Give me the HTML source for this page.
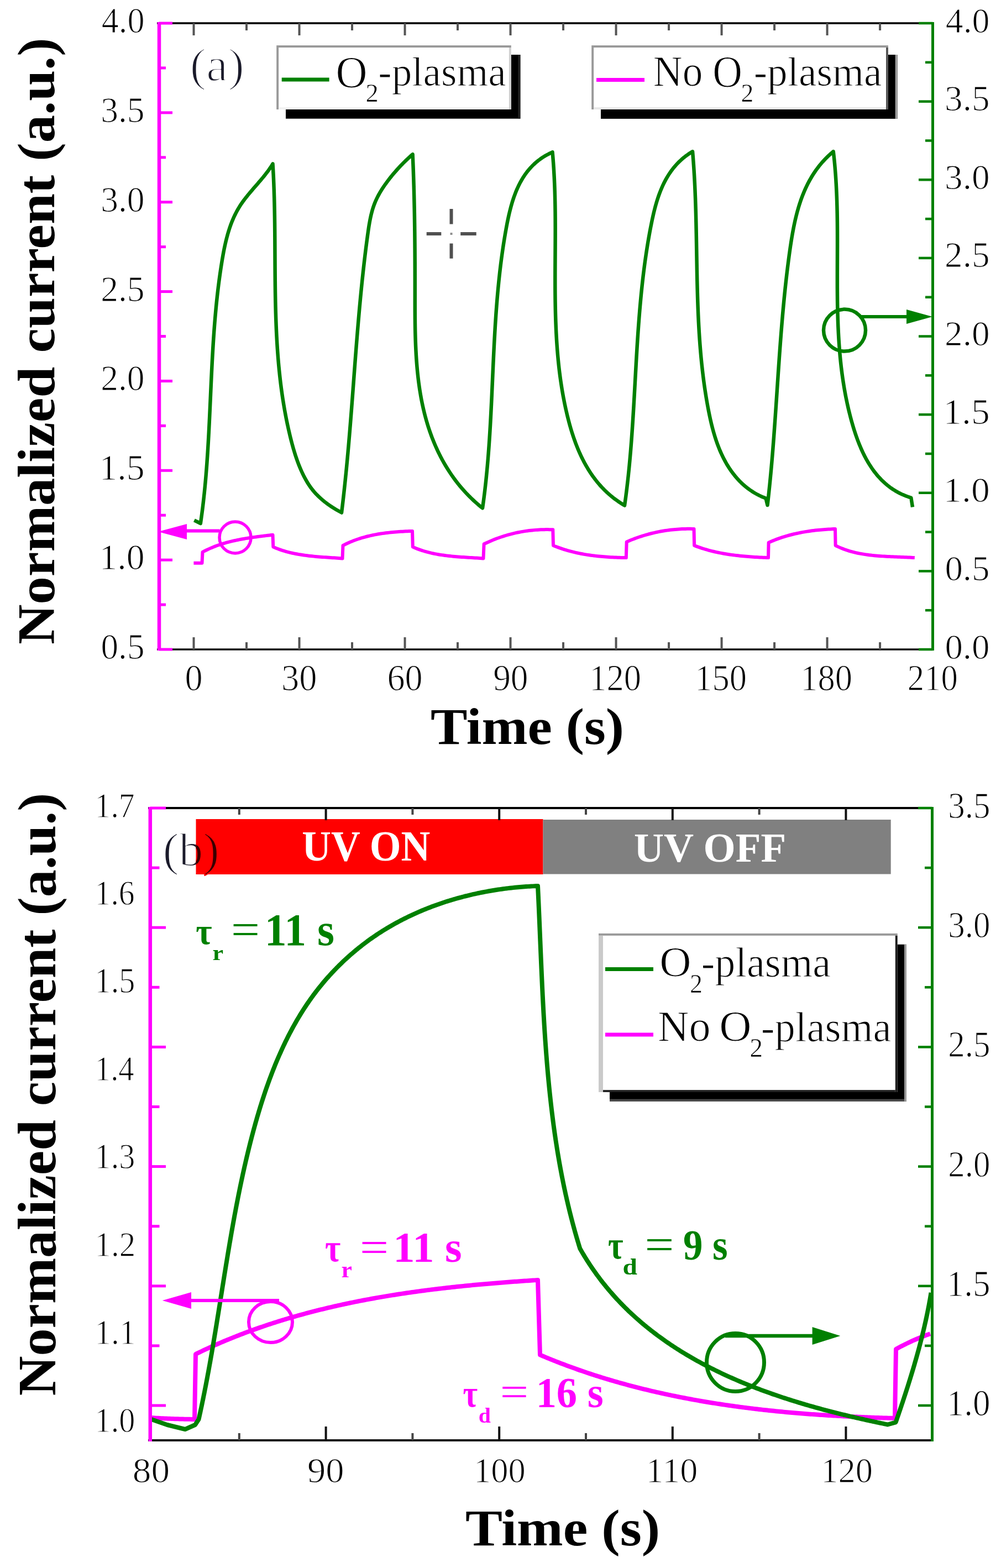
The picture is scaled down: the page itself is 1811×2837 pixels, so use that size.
<!DOCTYPE html>
<html><head><meta charset="utf-8"><title>Normalized current vs time</title>
<style>html,body{margin:0;padding:0;background:#fff}svg{display:block}</style></head>
<body><svg xmlns="http://www.w3.org/2000/svg" width="1811" height="2837" viewBox="0 0 1811 2837">
<rect width="1811" height="2837" fill="#fff"/>
<rect x="517" y="99" width="424.4" height="115.7" fill="#000"/>
<rect x="937.4" y="99" width="4" height="115.7" fill="#222"/>
<rect x="500.2" y="82.1" width="424.6" height="115.9" fill="#fff"/>
<rect x="500.2" y="82.1" width="424.6" height="3.9" fill="#999"/>
<rect x="500.2" y="86" width="3.9" height="112" fill="#999"/>
<rect x="920.9" y="86" width="3.9" height="112" fill="#d0d0d0"/>
<rect x="504.1" y="194.1" width="416.8" height="3.9" fill="#f2f2f2"/>
<rect x="1087" y="99" width="536.7" height="115.9" fill="#000"/>
<rect x="1619.7" y="99" width="4" height="115.9" fill="#a0a0a0"/>
<rect x="1070.2" y="82.1" width="536.7" height="115.9" fill="#fff"/>
<rect x="1070.2" y="82.1" width="536.7" height="3.9" fill="#999"/>
<rect x="1070.2" y="86" width="3.9" height="112" fill="#999"/>
<rect x="1603" y="86" width="3.9" height="112" fill="#555"/>
<rect x="1074.1" y="194.1" width="528.9" height="3.9" fill="#e8e8e8"/>
<line x1="509.7" y1="144" x2="595.6" y2="144" stroke="#008000" stroke-width="7"/>
<line x1="1079" y1="144.5" x2="1166" y2="144.5" stroke="#ff00ff" stroke-width="7"/>
<text transform="translate(607.54 157.59) scale(0.7906 0.8090)" font-size="100" font-family="'Liberation Serif',serif" font-weight="normal" fill="#000" stroke="#fff" stroke-width="1.50" stroke-linejoin="round">O</text>
<text transform="translate(661.61 184.2) scale(0.4650 0.4576)" font-size="100" font-family="'Liberation Serif',serif" font-weight="normal" fill="#000" stroke="#fff" stroke-width="1.52" stroke-linejoin="round">2</text>
<text transform="translate(684.34 155.45) scale(0.7310 0.7374)" font-size="100" font-family="'Liberation Serif',serif" font-weight="normal" fill="#000" stroke="#fff" stroke-width="1.63" stroke-linejoin="round">-plasma</text>
<text transform="translate(1181.8 155.02) scale(0.7322 0.7774)" font-size="100" font-family="'Liberation Serif',serif" font-weight="normal" fill="#000" stroke="#fff" stroke-width="1.59" stroke-linejoin="round">No</text>
<text transform="translate(1289.23 156.6) scale(0.7437 0.7955)" font-size="100" font-family="'Liberation Serif',serif" font-weight="normal" fill="#000" stroke="#fff" stroke-width="1.56" stroke-linejoin="round">O</text>
<text transform="translate(1340.54 184.3) scale(0.4575 0.4636)" font-size="100" font-family="'Liberation Serif',serif" font-weight="normal" fill="#000" stroke="#fff" stroke-width="1.52" stroke-linejoin="round">2</text>
<text transform="translate(1363.64 155.45) scale(0.7323 0.7374)" font-size="100" font-family="'Liberation Serif',serif" font-weight="normal" fill="#000" stroke="#fff" stroke-width="1.63" stroke-linejoin="round">-plasma</text>
<polyline points="350.4,1018.7 365.5,1018.7 366.5,998.9 369.22,997.44 371.96,996.04 374.72,994.69 377.5,993.38 380.29,992.13 383.1,990.92 385.93,989.76 388.77,988.64 391.62,987.56 394.5,986.53 397.38,985.54 400.28,984.58 403.19,983.67 406.11,982.79 409.05,981.95 411.99,981.14 414.95,980.37 417.91,979.62 420.88,978.91 423.87,978.23 426.86,977.57 429.86,976.95 432.86,976.34 435.87,975.77 438.89,975.21 441.91,974.68 444.94,974.16 447.97,973.67 451,973.19 454.04,972.73 457.08,972.29 460.12,971.86 463.16,971.44 466.2,971.04 469.24,970.64 472.28,970.26 475.32,969.88 478.36,969.51 481.4,969.14 484.43,968.78 487.46,968.42 490.48,968.06 493.5,967.7 494.3,989.6 497.1,990.81 499.91,991.96 502.74,993.06 505.59,994.11 508.45,995.1 511.33,996.04 514.22,996.94 517.13,997.79 520.05,998.59 522.98,999.35 525.92,1000.06 528.87,1000.74 531.83,1001.38 534.81,1001.98 537.79,1002.55 540.78,1003.08 543.78,1003.58 546.78,1004.05 549.8,1004.49 552.82,1004.9 555.84,1005.29 558.87,1005.65 561.9,1006 564.94,1006.32 567.98,1006.62 571.02,1006.9 574.06,1007.17 577.11,1007.42 580.15,1007.67 583.2,1007.9 586.24,1008.12 589.28,1008.33 592.32,1008.54 595.36,1008.74 598.4,1008.94 601.43,1009.14 604.46,1009.34 607.48,1009.54 610.49,1009.75 613.5,1009.96 616.51,1010.17 619.5,1010.4 620.5,987 623.17,985.61 625.86,984.27 628.58,982.99 631.31,981.74 634.06,980.55 636.83,979.4 639.62,978.3 642.42,977.24 645.24,976.23 648.08,975.26 650.93,974.32 653.8,973.43 656.68,972.58 659.57,971.77 662.47,971 665.39,970.26 668.32,969.56 671.26,968.89 674.2,968.26 677.16,967.66 680.12,967.1 683.09,966.56 686.07,966.06 689.06,965.58 692.05,965.13 695.04,964.71 698.04,964.32 701.04,963.95 704.04,963.61 707.05,963.29 710.06,963 713.07,962.72 716.07,962.47 719.08,962.24 722.09,962.03 725.09,961.83 728.09,961.65 731.09,961.49 734.08,961.35 737.07,961.22 740.05,961.1 743.03,960.99 746,960.9 746.8,989.6 749.58,990.82 752.38,991.99 755.2,993.1 758.03,994.16 760.88,995.16 763.74,996.11 766.62,997.01 769.51,997.87 772.41,998.68 775.33,999.44 778.26,1000.16 781.2,1000.84 784.15,1001.48 787.11,1002.09 790.07,1002.65 793.05,1003.19 796.04,1003.68 799.03,1004.15 802.03,1004.59 805.03,1005 808.05,1005.38 811.06,1005.74 814.08,1006.07 817.11,1006.39 820.14,1006.68 823.17,1006.96 826.2,1007.21 829.23,1007.46 832.27,1007.69 835.3,1007.9 838.34,1008.11 841.37,1008.31 844.4,1008.5 847.43,1008.69 850.46,1008.87 853.48,1009.05 856.5,1009.23 859.52,1009.42 862.53,1009.6 865.53,1009.79 868.53,1009.98 871.52,1010.19 874.5,1010.4 875.6,984.3 878.4,982.96 881.21,981.66 884.03,980.39 886.86,979.15 889.69,977.95 892.54,976.79 895.39,975.66 898.25,974.57 901.12,973.51 903.99,972.49 906.87,971.5 909.77,970.55 912.67,969.63 915.58,968.75 918.49,967.9 921.42,967.09 924.35,966.31 927.29,965.57 930.24,964.86 933.19,964.19 936.16,963.55 939.13,962.95 942.11,962.38 945.1,961.85 948.1,961.36 951.11,960.9 954.12,960.47 957.14,960.08 960.17,959.72 963.21,959.4 966.26,959.12 969.31,958.87 972.37,958.65 975.44,958.47 978.52,958.33 981.61,958.22 984.7,958.15 987.81,958.11 990.92,958.1 994.04,958.13 997.16,958.2 1000.3,958.3 1001,987 1003.84,988.17 1006.7,989.29 1009.57,990.37 1012.45,991.42 1015.33,992.43 1018.23,993.39 1021.14,994.32 1024.06,995.22 1026.99,996.08 1029.93,996.9 1032.88,997.69 1035.83,998.44 1038.8,999.16 1041.77,999.85 1044.75,1000.51 1047.73,1001.14 1050.72,1001.74 1053.72,1002.3 1056.73,1002.84 1059.74,1003.35 1062.75,1003.84 1065.77,1004.29 1068.8,1004.72 1071.83,1005.13 1074.86,1005.51 1077.9,1005.87 1080.94,1006.21 1083.98,1006.52 1087.03,1006.81 1090.08,1007.08 1093.13,1007.33 1096.18,1007.56 1099.23,1007.78 1102.29,1007.97 1105.34,1008.15 1108.39,1008.31 1111.45,1008.46 1114.5,1008.59 1117.56,1008.71 1120.61,1008.81 1123.66,1008.9 1126.71,1008.98 1129.76,1009.04 1132.8,1009.1 1133.7,980.4 1136.54,979.18 1139.39,977.99 1142.25,976.83 1145.11,975.71 1147.98,974.61 1150.86,973.55 1153.74,972.53 1156.63,971.53 1159.52,970.57 1162.43,969.64 1165.33,968.75 1168.25,967.88 1171.17,967.05 1174.09,966.25 1177.03,965.48 1179.96,964.75 1182.91,964.05 1185.86,963.38 1188.82,962.75 1191.78,962.14 1194.76,961.57 1197.73,961.03 1200.72,960.53 1203.71,960.06 1206.7,959.61 1209.7,959.21 1212.71,958.83 1215.73,958.49 1218.75,958.18 1221.78,957.9 1224.81,957.66 1227.85,957.44 1230.9,957.26 1233.95,957.12 1237.01,957 1240.08,956.92 1243.15,956.87 1246.23,956.85 1249.31,956.87 1252.4,956.92 1255.5,957 1256.1,987 1258.93,988.09 1261.76,989.15 1264.62,990.17 1267.48,991.15 1270.35,992.09 1273.23,993 1276.13,993.88 1279.03,994.72 1281.95,995.53 1284.87,996.31 1287.8,997.06 1290.74,997.78 1293.69,998.46 1296.64,999.12 1299.61,999.75 1302.58,1000.35 1305.55,1000.92 1308.54,1001.47 1311.52,1002 1314.52,1002.49 1317.52,1002.97 1320.52,1003.42 1323.53,1003.85 1326.54,1004.26 1329.55,1004.64 1332.57,1005.01 1335.59,1005.35 1338.62,1005.68 1341.64,1005.99 1344.67,1006.28 1347.7,1006.56 1350.72,1006.82 1353.75,1007.07 1356.78,1007.3 1359.81,1007.51 1362.84,1007.72 1365.87,1007.91 1368.89,1008.09 1371.92,1008.26 1374.94,1008.42 1377.96,1008.57 1380.97,1008.72 1383.99,1008.85 1387,1008.98 1390,1009.1 1390.6,981.7 1393.36,980.47 1396.14,979.27 1398.93,978.12 1401.74,977 1404.55,975.91 1407.38,974.87 1410.22,973.86 1413.07,972.88 1415.94,971.94 1418.81,971.03 1421.7,970.16 1424.59,969.32 1427.49,968.51 1430.41,967.74 1433.33,966.99 1436.26,966.28 1439.19,965.6 1442.14,964.95 1445.09,964.32 1448.05,963.73 1451.02,963.16 1453.99,962.63 1456.96,962.12 1459.94,961.63 1462.93,961.17 1465.92,960.74 1468.91,960.34 1471.91,959.95 1474.91,959.6 1477.91,959.26 1480.92,958.95 1483.92,958.66 1486.93,958.4 1489.94,958.15 1492.95,957.93 1495.96,957.73 1498.97,957.54 1501.98,957.38 1504.99,957.24 1508,957.11 1511,957 1511.6,987 1514.34,988.35 1517.1,989.64 1519.88,990.87 1522.68,992.04 1525.49,993.14 1528.33,994.19 1531.18,995.19 1534.05,996.12 1536.94,997.01 1539.84,997.84 1542.75,998.63 1545.68,999.37 1548.63,1000.06 1551.58,1000.71 1554.55,1001.32 1557.53,1001.89 1560.52,1002.42 1563.52,1002.91 1566.53,1003.36 1569.55,1003.79 1572.57,1004.18 1575.61,1004.54 1578.65,1004.87 1581.69,1005.18 1584.74,1005.46 1587.8,1005.72 1590.86,1005.96 1593.92,1006.17 1596.99,1006.37 1600.05,1006.56 1603.12,1006.73 1606.19,1006.88 1609.26,1007.03 1612.32,1007.17 1615.39,1007.3 1618.45,1007.42 1621.52,1007.54 1624.57,1007.66 1627.63,1007.78 1630.67,1007.9 1633.72,1008.02 1636.75,1008.14 1639.78,1008.28 1642.8,1008.42 1645.82,1008.57 1648.82,1008.73 1651.82,1008.91 1654.8,1009.1" fill="none" stroke="#ff00ff" stroke-width="6" stroke-linejoin="round" stroke-linecap="butt"/>
<polyline points="351.4,941.4 362.8,947 363.24,944.03 363.66,941.07 364.08,938.1 364.49,935.13 364.9,932.16 365.29,929.19 365.68,926.22 366.07,923.25 366.44,920.28 366.81,917.31 367.17,914.33 367.52,911.36 367.87,908.38 368.21,905.41 368.54,902.43 368.87,899.45 369.19,896.47 369.51,893.5 369.82,890.52 370.12,887.54 370.42,884.56 370.71,881.58 370.99,878.59 371.27,875.61 371.55,872.63 371.82,869.65 372.08,866.66 372.34,863.68 372.59,860.69 372.84,857.71 373.08,854.72 373.32,851.73 373.56,848.75 373.79,845.76 374.01,842.77 374.23,839.78 374.45,836.79 374.66,833.8 374.87,830.81 375.08,827.82 375.28,824.83 375.48,821.83 375.67,818.84 375.86,815.85 376.05,812.86 376.23,809.86 376.41,806.87 376.59,803.87 376.77,800.88 376.94,797.88 377.11,794.89 377.27,791.89 377.44,788.89 377.6,785.9 377.76,782.9 377.91,779.9 378.07,776.9 378.22,773.91 378.37,770.91 378.52,767.91 378.67,764.91 378.81,761.91 378.96,758.91 379.1,755.91 379.24,752.91 379.38,749.91 379.52,746.91 379.66,743.91 379.8,740.9 379.94,737.9 380.07,734.9 380.21,731.9 380.34,728.9 380.48,725.89 380.61,722.89 380.75,719.89 380.88,716.88 381.02,713.88 381.15,710.88 381.29,707.87 381.42,704.87 381.56,701.87 381.7,698.86 381.83,695.86 381.97,692.85 382.11,689.85 382.25,686.84 382.39,683.84 382.53,680.83 382.68,677.83 382.82,674.83 382.97,671.82 383.12,668.82 383.27,665.81 383.42,662.81 383.58,659.8 383.73,656.8 383.89,653.79 384.05,650.79 384.22,647.78 384.38,644.78 384.55,641.77 384.72,638.77 384.9,635.76 385.07,632.76 385.25,629.75 385.44,626.75 385.62,623.74 385.81,620.74 386,617.73 386.2,614.73 386.4,611.72 386.61,608.72 386.81,605.72 387.03,602.71 387.24,599.71 387.46,596.7 387.69,593.7 387.92,590.7 388.15,587.69 388.39,584.69 388.63,581.69 388.88,578.69 389.13,575.68 389.39,572.68 389.65,569.68 389.92,566.68 390.19,563.68 390.47,560.68 390.75,557.67 391.04,554.67 391.34,551.67 391.64,548.67 391.95,545.67 392.26,542.67 392.58,539.67 392.91,536.68 393.24,533.68 393.58,530.68 393.93,527.68 394.28,524.68 394.64,521.69 395,518.69 395.38,515.69 395.76,512.7 396.15,509.7 396.54,506.71 396.94,503.71 397.35,500.72 397.77,497.72 398.19,494.73 398.63,491.74 399.07,488.74 399.52,485.75 399.98,482.76 400.44,479.77 400.92,476.78 401.4,473.79 401.89,470.8 402.39,467.81 402.91,464.82 403.43,461.84 403.97,458.86 404.53,455.89 405.1,452.92 405.7,449.96 406.31,447 406.94,444.05 407.59,441.11 408.26,438.18 408.96,435.26 409.68,432.35 410.43,429.45 411.21,426.56 412.01,423.68 412.84,420.82 413.71,417.97 414.61,415.13 415.54,412.31 416.5,409.51 417.5,406.72 418.54,403.95 419.62,401.19 420.73,398.46 421.89,395.75 423.08,393.05 424.32,390.38 425.61,387.73 426.94,385.1 428.31,382.49 429.74,379.91 431.21,377.35 432.73,374.81 434.3,372.31 435.93,369.82 437.6,367.37 439.32,364.93 441.08,362.52 442.88,360.13 444.72,357.75 446.58,355.39 448.48,353.05 450.4,350.71 452.34,348.39 454.3,346.07 456.27,343.77 458.25,341.47 460.25,339.17 462.24,336.87 464.24,334.57 466.23,332.28 468.22,329.97 470.2,327.67 472.16,325.35 474.11,323.03 476.04,320.7 477.95,318.35 479.83,315.99 481.68,313.62 483.5,311.22 485.28,308.81 487.02,306.38 488.71,303.92 490.36,301.44 491.96,298.94 493.5,296.4 493.69,299.41 493.86,302.41 494.04,305.42 494.2,308.43 494.36,311.44 494.52,314.45 494.67,317.46 494.81,320.46 494.95,323.47 495.08,326.48 495.21,329.49 495.34,332.5 495.45,335.51 495.57,338.53 495.67,341.54 495.78,344.55 495.88,347.56 495.97,350.57 496.06,353.58 496.15,356.59 496.23,359.61 496.31,362.62 496.39,365.63 496.46,368.64 496.52,371.66 496.59,374.67 496.65,377.68 496.71,380.7 496.76,383.71 496.81,386.72 496.86,389.74 496.91,392.75 496.95,395.76 496.99,398.78 497.03,401.79 497.07,404.8 497.1,407.82 497.13,410.83 497.16,413.85 497.19,416.86 497.22,419.87 497.24,422.89 497.26,425.9 497.29,428.92 497.31,431.93 497.33,434.95 497.35,437.96 497.36,440.97 497.38,443.99 497.4,447 497.41,450.02 497.43,453.03 497.44,456.04 497.46,459.06 497.48,462.07 497.49,465.09 497.51,468.1 497.52,471.11 497.54,474.13 497.55,477.14 497.57,480.15 497.59,483.17 497.61,486.18 497.63,489.19 497.65,492.2 497.67,495.22 497.7,498.23 497.72,501.24 497.75,504.25 497.78,507.26 497.81,510.28 497.84,513.29 497.87,516.3 497.91,519.31 497.95,522.32 497.99,525.33 498.03,528.34 498.08,531.35 498.13,534.36 498.18,537.37 498.23,540.38 498.29,543.39 498.35,546.4 498.42,549.41 498.48,552.41 498.55,555.42 498.63,558.43 498.71,561.44 498.79,564.44 498.88,567.45 498.97,570.46 499.06,573.46 499.16,576.47 499.27,579.47 499.38,582.48 499.49,585.48 499.61,588.48 499.73,591.49 499.86,594.49 499.99,597.49 500.13,600.5 500.28,603.5 500.43,606.5 500.58,609.5 500.74,612.5 500.91,615.5 501.08,618.5 501.26,621.5 501.45,624.5 501.64,627.5 501.84,630.49 502.05,633.49 502.26,636.49 502.48,639.48 502.7,642.48 502.93,645.47 503.17,648.47 503.42,651.46 503.68,654.45 503.94,657.45 504.21,660.44 504.49,663.43 504.77,666.42 505.06,669.41 505.37,672.4 505.68,675.39 505.99,678.38 506.32,681.37 506.66,684.36 507,687.34 507.35,690.33 507.71,693.31 508.08,696.3 508.46,699.28 508.85,702.27 509.25,705.25 509.66,708.23 510.08,711.21 510.51,714.19 510.94,717.17 511.39,720.15 511.85,723.13 512.32,726.11 512.79,729.08 513.28,732.06 513.78,735.04 514.29,738.01 514.81,740.98 515.34,743.96 515.89,746.93 516.44,749.9 517,752.87 517.58,755.84 518.17,758.81 518.77,761.78 519.38,764.75 520,767.71 520.64,770.68 521.28,773.64 521.94,776.61 522.61,779.57 523.3,782.53 524,785.49 524.7,788.45 525.43,791.41 526.16,794.37 526.91,797.33 527.68,800.28 528.46,803.23 529.26,806.17 530.07,809.11 530.91,812.04 531.76,814.96 532.64,817.87 533.54,820.77 534.46,823.66 535.4,826.54 536.37,829.41 537.37,832.27 538.39,835.1 539.44,837.93 540.51,840.73 541.62,843.52 542.76,846.29 543.92,849.04 545.12,851.78 546.36,854.49 547.62,857.17 548.93,859.84 550.27,862.48 551.64,865.09 553.06,867.68 554.52,870.23 556.02,872.75 557.57,875.24 559.17,877.7 560.82,880.11 562.52,882.49 564.28,884.82 566.1,887.11 567.97,889.36 569.9,891.56 571.88,893.72 573.92,895.84 576,897.92 578.14,899.95 580.33,901.95 582.56,903.9 584.84,905.82 587.17,907.69 589.54,909.54 591.95,911.34 594.4,913.11 596.88,914.84 599.41,916.54 601.97,918.2 604.56,919.83 607.19,921.43 609.85,922.99 612.54,924.52 615.26,926.03 618,927.5 618.37,924.51 618.74,921.52 619.1,918.54 619.46,915.55 619.82,912.56 620.18,909.57 620.53,906.58 620.87,903.59 621.22,900.6 621.56,897.61 621.89,894.61 622.23,891.62 622.56,888.63 622.88,885.64 623.21,882.64 623.53,879.65 623.85,876.66 624.16,873.66 624.48,870.67 624.79,867.68 625.09,864.68 625.4,861.69 625.7,858.69 626,855.7 626.29,852.7 626.59,849.7 626.88,846.71 627.17,843.71 627.45,840.71 627.74,837.72 628.02,834.72 628.3,831.72 628.58,828.72 628.85,825.72 629.12,822.73 629.4,819.73 629.66,816.73 629.93,813.73 630.2,810.73 630.46,807.73 630.72,804.73 630.98,801.73 631.24,798.73 631.49,795.73 631.75,792.73 632,789.73 632.25,786.73 632.5,783.73 632.75,780.73 632.99,777.72 633.24,774.72 633.48,771.72 633.73,768.72 633.97,765.72 634.21,762.71 634.45,759.71 634.68,756.71 634.92,753.71 635.16,750.7 635.39,747.7 635.63,744.7 635.86,741.7 636.09,738.69 636.32,735.69 636.55,732.69 636.78,729.68 637.01,726.68 637.24,723.68 637.47,720.67 637.7,717.67 637.93,714.66 638.15,711.66 638.38,708.66 638.61,705.65 638.83,702.65 639.06,699.64 639.29,696.64 639.51,693.64 639.74,690.63 639.96,687.63 640.19,684.62 640.42,681.62 640.64,678.62 640.87,675.61 641.1,672.61 641.32,669.6 641.55,666.6 641.78,663.6 642,660.59 642.23,657.59 642.46,654.58 642.69,651.58 642.92,648.58 643.15,645.57 643.38,642.57 643.62,639.56 643.85,636.56 644.08,633.56 644.32,630.55 644.55,627.55 644.79,624.55 645.03,621.54 645.27,618.54 645.51,615.54 645.75,612.53 645.99,609.53 646.23,606.53 646.48,603.53 646.72,600.52 646.97,597.52 647.22,594.52 647.47,591.52 647.72,588.51 647.98,585.51 648.23,582.51 648.49,579.51 648.75,576.51 649.01,573.51 649.27,570.51 649.53,567.5 649.8,564.5 650.07,561.5 650.34,558.5 650.61,555.5 650.88,552.5 651.16,549.5 651.44,546.5 651.72,543.5 652,540.51 652.29,537.51 652.58,534.51 652.87,531.51 653.16,528.51 653.46,525.51 653.75,522.52 654.05,519.52 654.36,516.52 654.66,513.52 654.97,510.53 655.28,507.53 655.6,504.53 655.91,501.54 656.24,498.54 656.56,495.55 656.88,492.55 657.21,489.56 657.55,486.56 657.88,483.57 658.22,480.58 658.56,477.58 658.91,474.59 659.26,471.6 659.61,468.61 659.97,465.61 660.33,462.62 660.69,459.63 661.06,456.64 661.43,453.65 661.8,450.66 662.18,447.67 662.56,444.68 662.95,441.69 663.34,438.7 663.73,435.71 664.13,432.72 664.53,429.74 664.93,426.75 665.34,423.76 665.76,420.78 666.18,417.79 666.61,414.81 667.06,411.83 667.52,408.86 668.01,405.9 668.51,402.94 669.05,399.99 669.61,397.05 670.21,394.12 670.85,391.21 671.52,388.31 672.24,385.42 673,382.55 673.81,379.7 674.67,376.87 675.59,374.05 676.57,371.26 677.61,368.49 678.71,365.74 679.88,363.02 681.11,360.32 682.41,357.64 683.76,354.99 685.16,352.36 686.62,349.75 688.13,347.16 689.69,344.58 691.29,342.03 692.94,339.5 694.62,336.99 696.35,334.49 698.11,332.02 699.9,329.56 701.73,327.12 703.58,324.69 705.46,322.28 707.37,319.89 709.3,317.52 711.25,315.17 713.23,312.84 715.23,310.53 717.24,308.24 719.27,305.98 721.32,303.74 723.38,301.53 725.46,299.34 727.54,297.18 729.64,295.05 731.74,292.95 733.85,290.87 735.97,288.83 738.09,286.81 740.22,284.83 742.34,282.89 744.47,280.98 746.6,279.1 746.73,282.12 746.86,285.14 746.99,288.15 747.12,291.17 747.24,294.18 747.36,297.19 747.48,300.2 747.59,303.21 747.7,306.22 747.81,309.22 747.92,312.23 748.02,315.23 748.12,318.23 748.22,321.23 748.32,324.23 748.42,327.22 748.51,330.22 748.6,333.22 748.69,336.21 748.77,339.2 748.86,342.2 748.94,345.19 749.02,348.18 749.09,351.17 749.17,354.15 749.24,357.14 749.31,360.13 749.38,363.12 749.44,366.1 749.51,369.09 749.57,372.07 749.63,375.06 749.69,378.04 749.75,381.02 749.8,384.01 749.86,386.99 749.91,389.97 749.96,392.96 750,395.94 750.05,398.92 750.09,401.9 750.14,404.88 750.18,407.87 750.22,410.85 750.25,413.83 750.29,416.81 750.33,419.79 750.36,422.78 750.39,425.76 750.42,428.74 750.45,431.73 750.48,434.71 750.5,437.69 750.53,440.68 750.55,443.66 750.57,446.65 750.6,449.64 750.62,452.62 750.63,455.61 750.65,458.6 750.67,461.59 750.68,464.58 750.7,467.57 750.71,470.56 750.72,473.56 750.73,476.55 750.74,479.54 750.75,482.54 750.76,485.54 750.77,488.54 750.77,491.54 750.78,494.54 750.78,497.54 750.79,500.54 750.79,503.55 750.79,506.55 750.8,509.56 750.8,512.57 750.8,515.58 750.8,518.6 750.8,521.61 750.8,524.63 750.79,527.64 750.79,530.66 750.79,533.68 750.79,536.71 750.79,539.73 750.78,542.76 750.78,545.78 750.78,548.81 750.79,551.84 750.79,554.87 750.8,557.9 750.8,560.93 750.81,563.97 750.83,567 750.84,570.03 750.86,573.07 750.89,576.1 750.92,579.14 750.95,582.17 750.98,585.21 751.03,588.24 751.07,591.28 751.12,594.31 751.18,597.34 751.25,600.38 751.32,603.41 751.39,606.44 751.47,609.47 751.57,612.5 751.66,615.53 751.77,618.56 751.88,621.58 752,624.61 752.13,627.63 752.27,630.65 752.42,633.68 752.58,636.69 752.74,639.71 752.92,642.73 753.11,645.74 753.3,648.75 753.51,651.76 753.73,654.76 753.96,657.77 754.2,660.77 754.46,663.77 754.72,666.76 755,669.76 755.29,672.75 755.59,675.73 755.91,678.72 756.24,681.7 756.59,684.68 756.95,687.65 757.32,690.62 757.71,693.59 758.11,696.55 758.53,699.51 758.96,702.46 759.41,705.42 759.88,708.36 760.36,711.3 760.86,714.24 761.37,717.18 761.9,720.11 762.45,723.03 763.02,725.95 763.61,728.87 764.21,731.77 764.83,734.68 765.48,737.58 766.14,740.47 766.82,743.36 767.52,746.25 768.24,749.12 768.98,752 769.74,754.86 770.52,757.72 771.32,760.58 772.15,763.43 772.99,766.27 773.86,769.11 774.75,771.93 775.66,774.76 776.6,777.57 777.55,780.38 778.53,783.18 779.53,785.97 780.56,788.75 781.6,791.53 782.67,794.29 783.77,797.05 784.88,799.79 786.02,802.53 787.18,805.26 788.37,807.97 789.58,810.68 790.81,813.38 792.07,816.06 793.35,818.73 794.66,821.4 795.99,824.05 797.34,826.68 798.72,829.31 800.12,831.92 801.55,834.52 803,837.11 804.48,839.68 805.98,842.24 807.51,844.79 809.07,847.32 810.65,849.84 812.25,852.34 813.88,854.83 815.54,857.3 817.23,859.76 818.93,862.2 820.67,864.63 822.43,867.04 824.22,869.43 826.04,871.81 827.88,874.17 829.75,876.51 831.65,878.83 833.57,881.14 835.52,883.43 837.5,885.7 839.51,887.95 841.54,890.18 843.6,892.39 845.69,894.59 847.81,896.76 849.96,898.91 852.13,901.05 854.33,903.16 856.57,905.25 858.83,907.33 861.12,909.38 863.43,911.41 865.78,913.41 868.16,915.4 870.56,917.36 873,919.3 873.43,916.3 873.85,913.3 874.26,910.3 874.67,907.3 875.06,904.3 875.46,901.3 875.84,898.3 876.22,895.3 876.59,892.3 876.95,889.3 877.31,886.3 877.66,883.3 878,880.3 878.34,877.3 878.67,874.3 878.99,871.3 879.31,868.3 879.62,865.3 879.93,862.3 880.23,859.3 880.52,856.3 880.81,853.3 881.1,850.3 881.37,847.3 881.65,844.3 881.92,841.3 882.18,838.3 882.44,835.3 882.69,832.3 882.94,829.3 883.18,826.3 883.42,823.3 883.65,820.3 883.88,817.3 884.11,814.3 884.33,811.3 884.55,808.3 884.76,805.3 884.97,802.3 885.17,799.29 885.38,796.29 885.57,793.29 885.77,790.29 885.96,787.29 886.15,784.29 886.33,781.29 886.51,778.29 886.69,775.29 886.87,772.29 887.04,769.29 887.21,766.28 887.38,763.28 887.54,760.28 887.7,757.28 887.86,754.28 888.02,751.28 888.18,748.28 888.33,745.28 888.48,742.27 888.63,739.27 888.78,736.27 888.93,733.27 889.07,730.27 889.22,727.27 889.36,724.27 889.5,721.26 889.64,718.26 889.78,715.26 889.92,712.26 890.05,709.26 890.19,706.25 890.32,703.25 890.46,700.25 890.59,697.25 890.73,694.25 890.86,691.24 891,688.24 891.13,685.24 891.26,682.24 891.4,679.23 891.53,676.23 891.67,673.23 891.8,670.23 891.94,667.22 892.08,664.22 892.21,661.22 892.35,658.22 892.49,655.21 892.63,652.21 892.77,649.21 892.91,646.2 893.06,643.2 893.2,640.2 893.35,637.19 893.5,634.19 893.65,631.19 893.8,628.18 893.95,625.18 894.11,622.18 894.27,619.17 894.43,616.17 894.59,613.17 894.76,610.16 894.93,607.16 895.1,604.15 895.27,601.15 895.45,598.15 895.62,595.14 895.81,592.14 895.99,589.13 896.18,586.13 896.37,583.13 896.57,580.12 896.77,577.12 896.97,574.11 897.17,571.11 897.38,568.1 897.6,565.1 897.82,562.09 898.04,559.09 898.27,556.08 898.5,553.08 898.73,550.07 898.97,547.07 899.22,544.06 899.46,541.06 899.72,538.05 899.98,535.04 900.24,532.04 900.51,529.03 900.78,526.03 901.06,523.02 901.35,520.02 901.64,517.01 901.94,514 902.24,511 902.54,507.99 902.86,504.98 903.18,501.98 903.5,498.97 903.84,495.96 904.17,492.96 904.52,489.95 904.87,486.94 905.23,483.94 905.59,480.93 905.96,477.92 906.34,474.91 906.73,471.91 907.12,468.9 907.52,465.89 907.93,462.88 908.34,459.88 908.76,456.87 909.19,453.86 909.63,450.85 910.08,447.84 910.53,444.84 910.99,441.83 911.46,438.82 911.94,435.81 912.42,432.8 912.92,429.79 913.42,426.78 913.93,423.78 914.45,420.77 914.98,417.76 915.52,414.75 916.06,411.74 916.62,408.73 917.2,405.73 917.78,402.73 918.38,399.74 919,396.75 919.63,393.76 920.28,390.79 920.95,387.82 921.64,384.87 922.36,381.92 923.1,378.99 923.86,376.07 924.64,373.16 925.46,370.27 926.3,367.39 927.17,364.53 928.07,361.69 929,358.87 929.97,356.06 930.97,353.28 932,350.52 933.07,347.78 934.18,345.06 935.32,342.37 936.51,339.71 937.74,337.07 939,334.46 940.32,331.88 941.67,329.32 943.08,326.8 944.53,324.31 946.02,321.85 947.57,319.43 949.17,317.04 950.82,314.68 952.52,312.37 954.28,310.08 956.09,307.84 957.96,305.64 959.88,303.48 961.87,301.36 963.91,299.28 966.02,297.24 968.18,295.25 970.42,293.31 972.71,291.41 975.07,289.56 977.5,287.76 980,286 982.57,284.3 985.21,282.65 987.92,281.05 990.7,279.51 993.56,278.01 996.49,276.58 999.5,275.2 999.77,278.18 1000.04,281.16 1000.29,284.14 1000.54,287.12 1000.77,290.11 1001,293.09 1001.22,296.08 1001.43,299.06 1001.63,302.05 1001.83,305.04 1002.01,308.03 1002.19,311.02 1002.36,314.02 1002.52,317.01 1002.68,320 1002.83,323 1002.97,326 1003.1,328.99 1003.23,331.99 1003.35,334.99 1003.46,337.99 1003.57,340.99 1003.67,343.99 1003.77,347 1003.86,350 1003.94,353 1004.02,356.01 1004.09,359.01 1004.16,362.02 1004.23,365.03 1004.28,368.04 1004.34,371.04 1004.39,374.05 1004.43,377.06 1004.47,380.07 1004.51,383.08 1004.54,386.1 1004.57,389.11 1004.59,392.12 1004.61,395.13 1004.63,398.15 1004.64,401.16 1004.65,404.18 1004.66,407.19 1004.67,410.21 1004.67,413.22 1004.67,416.24 1004.67,419.26 1004.66,422.27 1004.66,425.29 1004.65,428.31 1004.64,431.33 1004.63,434.34 1004.62,437.36 1004.6,440.38 1004.59,443.4 1004.57,446.42 1004.56,449.44 1004.54,452.46 1004.52,455.48 1004.5,458.5 1004.49,461.52 1004.47,464.54 1004.45,467.56 1004.43,470.58 1004.42,473.6 1004.4,476.62 1004.38,479.64 1004.37,482.66 1004.36,485.68 1004.34,488.7 1004.33,491.72 1004.32,494.74 1004.32,497.76 1004.31,500.78 1004.31,503.8 1004.31,506.81 1004.31,509.83 1004.31,512.85 1004.32,515.87 1004.33,518.89 1004.34,521.91 1004.35,524.92 1004.37,527.94 1004.39,530.96 1004.42,533.98 1004.45,536.99 1004.48,540.01 1004.52,543.02 1004.56,546.04 1004.61,549.05 1004.66,552.07 1004.71,555.08 1004.77,558.09 1004.84,561.11 1004.91,564.12 1004.98,567.13 1005.06,570.14 1005.15,573.15 1005.24,576.16 1005.34,579.17 1005.44,582.18 1005.55,585.19 1005.67,588.19 1005.79,591.2 1005.92,594.2 1006.05,597.21 1006.2,600.21 1006.35,603.22 1006.51,606.22 1006.67,609.22 1006.84,612.22 1007.02,615.22 1007.21,618.22 1007.41,621.22 1007.61,624.22 1007.83,627.21 1008.05,630.21 1008.28,633.2 1008.52,636.2 1008.77,639.19 1009.02,642.18 1009.29,645.17 1009.57,648.16 1009.85,651.15 1010.15,654.13 1010.45,657.12 1010.77,660.1 1011.09,663.09 1011.43,666.07 1011.78,669.05 1012.13,672.03 1012.5,675.01 1012.88,677.99 1013.27,680.96 1013.67,683.94 1014.09,686.91 1014.51,689.88 1014.95,692.85 1015.4,695.82 1015.86,698.79 1016.33,701.76 1016.81,704.72 1017.31,707.69 1017.82,710.65 1018.34,713.61 1018.88,716.57 1019.43,719.53 1019.99,722.48 1020.57,725.44 1021.16,728.39 1021.76,731.34 1022.38,734.29 1023.01,737.24 1023.66,740.19 1024.32,743.13 1024.99,746.08 1025.68,749.02 1026.39,751.96 1027.11,754.89 1027.85,757.82 1028.6,760.75 1029.37,763.67 1030.16,766.59 1030.97,769.51 1031.79,772.41 1032.63,775.31 1033.5,778.21 1034.38,781.09 1035.29,783.97 1036.21,786.84 1037.16,789.7 1038.13,792.55 1039.12,795.39 1040.13,798.21 1041.17,801.03 1042.23,803.84 1043.31,806.63 1044.42,809.41 1045.55,812.18 1046.71,814.93 1047.9,817.67 1049.11,820.39 1050.35,823.1 1051.61,825.8 1052.91,828.47 1054.23,831.13 1055.58,833.77 1056.96,836.4 1058.37,839 1059.81,841.59 1061.28,844.16 1062.78,846.7 1064.31,849.23 1065.88,851.73 1067.48,854.22 1069.11,856.68 1070.77,859.12 1072.47,861.53 1074.2,863.92 1075.97,866.29 1077.77,868.63 1079.61,870.95 1081.48,873.24 1083.39,875.51 1085.34,877.75 1087.32,879.96 1089.35,882.14 1091.41,884.3 1093.51,886.42 1095.65,888.52 1097.83,890.59 1100.05,892.62 1102.31,894.63 1104.61,896.6 1106.95,898.54 1109.34,900.45 1111.77,902.33 1114.24,904.17 1116.76,905.98 1119.31,907.76 1121.92,909.5 1124.57,911.2 1127.26,912.87 1130,914.5 1130.43,911.52 1130.85,908.54 1131.26,905.56 1131.67,902.58 1132.07,899.6 1132.46,896.62 1132.85,893.63 1133.23,890.65 1133.61,887.66 1133.97,884.68 1134.34,881.69 1134.69,878.7 1135.04,875.72 1135.39,872.73 1135.72,869.74 1136.06,866.75 1136.38,863.76 1136.71,860.77 1137.02,857.78 1137.33,854.78 1137.64,851.79 1137.94,848.8 1138.24,845.8 1138.53,842.81 1138.81,839.81 1139.09,836.82 1139.37,833.82 1139.64,830.83 1139.91,827.83 1140.17,824.83 1140.43,821.83 1140.69,818.83 1140.94,815.83 1141.19,812.83 1141.43,809.83 1141.67,806.83 1141.91,803.83 1142.14,800.83 1142.37,797.83 1142.59,794.83 1142.81,791.82 1143.03,788.82 1143.25,785.82 1143.46,782.81 1143.67,779.81 1143.88,776.8 1144.08,773.8 1144.28,770.79 1144.48,767.79 1144.68,764.78 1144.87,761.77 1145.06,758.77 1145.25,755.76 1145.44,752.75 1145.63,749.74 1145.81,746.74 1145.99,743.73 1146.17,740.72 1146.35,737.71 1146.53,734.7 1146.7,731.69 1146.88,728.68 1147.05,725.67 1147.22,722.66 1147.4,719.65 1147.57,716.64 1147.74,713.63 1147.9,710.62 1148.07,707.61 1148.24,704.6 1148.41,701.59 1148.57,698.58 1148.74,695.57 1148.91,692.56 1149.07,689.55 1149.24,686.54 1149.41,683.53 1149.57,680.51 1149.74,677.5 1149.91,674.49 1150.07,671.48 1150.24,668.47 1150.41,665.46 1150.58,662.45 1150.75,659.43 1150.92,656.42 1151.1,653.41 1151.27,650.4 1151.44,647.39 1151.62,644.38 1151.8,641.37 1151.98,638.35 1152.16,635.34 1152.34,632.33 1152.53,629.32 1152.71,626.31 1152.9,623.3 1153.09,620.29 1153.29,617.28 1153.48,614.27 1153.68,611.26 1153.88,608.25 1154.08,605.24 1154.29,602.23 1154.49,599.22 1154.7,596.21 1154.92,593.2 1155.14,590.2 1155.36,587.19 1155.58,584.18 1155.81,581.17 1156.04,578.16 1156.27,575.16 1156.51,572.15 1156.75,569.14 1156.99,566.14 1157.24,563.13 1157.49,560.13 1157.75,557.12 1158.01,554.12 1158.28,551.11 1158.55,548.11 1158.82,545.1 1159.1,542.1 1159.38,539.1 1159.67,536.1 1159.96,533.09 1160.26,530.09 1160.56,527.09 1160.87,524.09 1161.18,521.09 1161.5,518.09 1161.83,515.09 1162.16,512.09 1162.49,509.09 1162.83,506.09 1163.18,503.1 1163.53,500.1 1163.89,497.1 1164.25,494.11 1164.63,491.11 1165,488.12 1165.39,485.12 1165.78,482.13 1166.17,479.14 1166.58,476.14 1166.98,473.15 1167.4,470.16 1167.83,467.17 1168.26,464.18 1168.69,461.19 1169.14,458.2 1169.59,455.22 1170.05,452.23 1170.52,449.24 1170.99,446.26 1171.48,443.27 1171.97,440.29 1172.46,437.3 1172.97,434.32 1173.48,431.34 1174.01,428.36 1174.54,425.38 1175.08,422.4 1175.62,419.42 1176.18,416.44 1176.75,413.46 1177.32,410.49 1177.9,407.51 1178.5,404.54 1179.1,401.57 1179.72,398.6 1180.35,395.64 1181,392.68 1181.66,389.73 1182.34,386.79 1183.04,383.85 1183.76,380.93 1184.5,378.01 1185.26,375.11 1186.05,372.21 1186.86,369.33 1187.7,366.46 1188.56,363.61 1189.45,360.77 1190.37,357.95 1191.33,355.14 1192.31,352.35 1193.32,349.58 1194.38,346.83 1195.46,344.1 1196.58,341.39 1197.74,338.7 1198.94,336.03 1200.18,333.39 1201.46,330.77 1202.78,328.18 1204.14,325.61 1205.55,323.07 1207.01,320.56 1208.51,318.08 1210.06,315.62 1211.66,313.2 1213.31,310.81 1215.01,308.45 1216.77,306.12 1218.58,303.83 1220.44,301.57 1222.36,299.35 1224.34,297.17 1226.38,295.02 1228.47,292.91 1230.63,290.84 1232.85,288.81 1235.14,286.82 1237.48,284.87 1239.9,282.96 1242.38,281.1 1244.93,279.28 1247.55,277.51 1250.24,275.78 1253,274.1 1253.26,277.11 1253.51,280.11 1253.76,283.12 1254,286.12 1254.23,289.13 1254.45,292.13 1254.67,295.14 1254.89,298.14 1255.09,301.15 1255.29,304.15 1255.49,307.15 1255.68,310.16 1255.86,313.16 1256.04,316.16 1256.21,319.16 1256.38,322.16 1256.54,325.17 1256.7,328.17 1256.85,331.17 1257,334.17 1257.15,337.17 1257.28,340.17 1257.42,343.17 1257.55,346.17 1257.67,349.17 1257.79,352.17 1257.91,355.16 1258.03,358.16 1258.14,361.16 1258.24,364.16 1258.34,367.16 1258.44,370.15 1258.54,373.15 1258.63,376.15 1258.72,379.14 1258.81,382.14 1258.89,385.14 1258.97,388.13 1259.05,391.13 1259.12,394.12 1259.2,397.12 1259.27,400.11 1259.34,403.11 1259.4,406.1 1259.47,409.1 1259.53,412.09 1259.59,415.09 1259.65,418.08 1259.71,421.07 1259.77,424.07 1259.82,427.06 1259.88,430.05 1259.93,433.05 1259.98,436.04 1260.04,439.03 1260.09,442.02 1260.14,445.02 1260.19,448.01 1260.24,451 1260.29,453.99 1260.34,456.98 1260.39,459.97 1260.44,462.97 1260.49,465.96 1260.54,468.95 1260.59,471.94 1260.64,474.93 1260.69,477.92 1260.74,480.91 1260.8,483.9 1260.85,486.89 1260.91,489.88 1260.96,492.87 1261.02,495.86 1261.08,498.85 1261.14,501.84 1261.21,504.83 1261.27,507.82 1261.34,510.81 1261.41,513.8 1261.48,516.79 1261.55,519.78 1261.63,522.76 1261.71,525.75 1261.79,528.74 1261.88,531.73 1261.96,534.72 1262.05,537.71 1262.15,540.7 1262.24,543.69 1262.34,546.67 1262.45,549.66 1262.55,552.65 1262.66,555.64 1262.78,558.63 1262.9,561.62 1263.02,564.6 1263.14,567.59 1263.27,570.58 1263.41,573.57 1263.55,576.56 1263.69,579.54 1263.84,582.53 1264,585.52 1264.15,588.51 1264.32,591.5 1264.49,594.48 1264.66,597.47 1264.84,600.46 1265.03,603.45 1265.22,606.44 1265.41,609.43 1265.62,612.41 1265.83,615.4 1266.04,618.39 1266.26,621.38 1266.49,624.37 1266.72,627.35 1266.96,630.34 1267.21,633.33 1267.46,636.32 1267.72,639.31 1267.99,642.3 1268.26,645.28 1268.55,648.27 1268.84,651.26 1269.13,654.25 1269.44,657.24 1269.75,660.23 1270.07,663.22 1270.4,666.21 1270.73,669.2 1271.08,672.18 1271.43,675.17 1271.79,678.16 1272.16,681.15 1272.54,684.14 1272.92,687.13 1273.32,690.12 1273.72,693.11 1274.14,696.1 1274.56,699.09 1274.99,702.08 1275.43,705.07 1275.89,708.06 1276.35,711.05 1276.82,714.04 1277.3,717.03 1277.79,720.03 1278.29,723.02 1278.8,726.01 1279.32,729 1279.85,731.99 1280.4,734.98 1280.95,737.97 1281.52,740.96 1282.09,743.95 1282.69,746.94 1283.29,749.92 1283.92,752.9 1284.56,755.87 1285.21,758.84 1285.88,761.8 1286.57,764.76 1287.28,767.71 1288.01,770.65 1288.76,773.58 1289.53,776.51 1290.33,779.42 1291.14,782.32 1291.98,785.22 1292.85,788.1 1293.74,790.97 1294.65,793.82 1295.59,796.67 1296.56,799.49 1297.56,802.31 1298.58,805.1 1299.64,807.89 1300.72,810.65 1301.84,813.4 1302.99,816.13 1304.17,818.84 1305.39,821.53 1306.63,824.2 1307.92,826.85 1309.24,829.48 1310.59,832.08 1311.98,834.66 1313.42,837.22 1314.88,839.76 1316.39,842.27 1317.94,844.76 1319.53,847.22 1321.16,849.65 1322.84,852.06 1324.55,854.43 1326.31,856.78 1328.12,859.1 1329.96,861.38 1331.86,863.63 1333.79,865.84 1335.77,868.01 1337.8,870.15 1339.88,872.25 1342,874.3 1344.16,876.31 1346.37,878.28 1348.64,880.2 1350.94,882.08 1353.3,883.9 1355.71,885.68 1358.16,887.4 1360.67,889.07 1363.22,890.69 1365.83,892.25 1368.48,893.75 1371.19,895.2 1373.95,896.59 1376.76,897.91 1379.62,899.17 1382.53,900.37 1385.5,901.5 1388.5,914 1388.85,911.02 1389.19,908.04 1389.53,905.06 1389.87,902.08 1390.2,899.1 1390.53,896.11 1390.85,893.13 1391.17,890.15 1391.48,887.17 1391.8,884.18 1392.11,881.2 1392.41,878.22 1392.71,875.23 1393.01,872.25 1393.3,869.26 1393.59,866.28 1393.88,863.29 1394.16,860.31 1394.45,857.32 1394.72,854.33 1395,851.35 1395.27,848.36 1395.54,845.37 1395.8,842.38 1396.07,839.4 1396.33,836.41 1396.58,833.42 1396.84,830.43 1397.09,827.44 1397.34,824.45 1397.59,821.46 1397.83,818.47 1398.07,815.48 1398.32,812.49 1398.55,809.5 1398.79,806.51 1399.02,803.52 1399.25,800.52 1399.48,797.53 1399.71,794.54 1399.94,791.55 1400.16,788.55 1400.38,785.56 1400.61,782.57 1400.82,779.58 1401.04,776.58 1401.26,773.59 1401.47,770.59 1401.69,767.6 1401.9,764.6 1402.11,761.61 1402.32,758.61 1402.53,755.62 1402.74,752.62 1402.94,749.63 1403.15,746.63 1403.36,743.64 1403.56,740.64 1403.76,737.64 1403.97,734.65 1404.17,731.65 1404.37,728.65 1404.57,725.66 1404.77,722.66 1404.97,719.66 1405.17,716.66 1405.37,713.67 1405.57,710.67 1405.77,707.67 1405.97,704.67 1406.17,701.67 1406.37,698.68 1406.57,695.68 1406.77,692.68 1406.98,689.68 1407.18,686.68 1407.38,683.68 1407.58,680.68 1407.78,677.68 1407.98,674.68 1408.19,671.68 1408.39,668.68 1408.6,665.68 1408.8,662.68 1409.01,659.68 1409.22,656.68 1409.43,653.68 1409.64,650.68 1409.85,647.68 1410.06,644.68 1410.28,641.68 1410.49,638.68 1410.71,635.68 1410.92,632.68 1411.14,629.68 1411.37,626.68 1411.59,623.68 1411.81,620.68 1412.04,617.67 1412.27,614.67 1412.5,611.67 1412.73,608.67 1412.96,605.67 1413.2,602.67 1413.44,599.67 1413.68,596.66 1413.92,593.66 1414.17,590.66 1414.41,587.66 1414.66,584.66 1414.92,581.66 1415.17,578.66 1415.43,575.65 1415.69,572.65 1415.95,569.65 1416.22,566.65 1416.49,563.65 1416.76,560.65 1417.03,557.65 1417.31,554.64 1417.59,551.64 1417.88,548.64 1418.16,545.64 1418.46,542.64 1418.75,539.64 1419.05,536.64 1419.35,533.64 1419.65,530.63 1419.96,527.63 1420.28,524.63 1420.59,521.63 1420.91,518.63 1421.24,515.63 1421.56,512.63 1421.89,509.63 1422.23,506.63 1422.57,503.63 1422.92,500.63 1423.26,497.63 1423.62,494.62 1423.97,491.62 1424.34,488.62 1424.7,485.62 1425.07,482.62 1425.45,479.62 1425.83,476.62 1426.21,473.62 1426.6,470.63 1427,467.63 1427.4,464.63 1427.8,461.63 1428.21,458.63 1428.63,455.63 1429.05,452.63 1429.48,449.63 1429.91,446.64 1430.36,443.64 1430.81,440.65 1431.27,437.66 1431.74,434.68 1432.22,431.69 1432.72,428.72 1433.23,425.74 1433.74,422.77 1434.28,419.81 1434.83,416.85 1435.39,413.89 1435.97,410.94 1436.56,408 1437.17,405.07 1437.81,402.14 1438.45,399.22 1439.12,396.31 1439.81,393.41 1440.52,390.52 1441.25,387.63 1442,384.76 1442.78,381.9 1443.58,379.04 1444.4,376.2 1445.25,373.37 1446.12,370.55 1447.02,367.75 1447.95,364.95 1448.9,362.17 1449.89,359.4 1450.9,356.65 1451.94,353.91 1453.02,351.19 1454.12,348.48 1455.26,345.78 1456.43,343.1 1457.63,340.44 1458.86,337.79 1460.14,335.17 1461.44,332.55 1462.78,329.96 1464.16,327.38 1465.58,324.83 1467.04,322.29 1468.53,319.77 1470.07,317.27 1471.64,314.8 1473.26,312.34 1474.92,309.9 1476.62,307.49 1478.36,305.09 1480.15,302.72 1481.98,300.37 1483.86,298.05 1485.78,295.74 1487.75,293.47 1489.77,291.21 1491.83,288.98 1493.95,286.78 1496.11,284.6 1498.33,282.45 1500.59,280.32 1502.91,278.22 1505.28,276.14 1507.7,274.1 1508.05,277.09 1508.39,280.08 1508.72,283.07 1509.04,286.07 1509.35,289.06 1509.65,292.05 1509.94,295.05 1510.22,298.04 1510.48,301.04 1510.74,304.04 1510.99,307.04 1511.23,310.04 1511.46,313.04 1511.68,316.04 1511.89,319.04 1512.09,322.04 1512.29,325.04 1512.47,328.05 1512.65,331.05 1512.82,334.05 1512.98,337.06 1513.14,340.07 1513.28,343.07 1513.42,346.08 1513.56,349.09 1513.68,352.09 1513.8,355.1 1513.91,358.11 1514.02,361.12 1514.12,364.13 1514.21,367.14 1514.29,370.15 1514.38,373.17 1514.45,376.18 1514.52,379.19 1514.59,382.2 1514.65,385.22 1514.7,388.23 1514.75,391.24 1514.8,394.26 1514.84,397.27 1514.87,400.29 1514.91,403.3 1514.93,406.32 1514.96,409.33 1514.98,412.35 1515,415.37 1515.02,418.38 1515.03,421.4 1515.04,424.42 1515.04,427.43 1515.05,430.45 1515.05,433.47 1515.05,436.49 1515.05,439.5 1515.04,442.52 1515.04,445.54 1515.03,448.56 1515.02,451.57 1515.01,454.59 1515,457.61 1514.99,460.63 1514.98,463.65 1514.97,466.66 1514.96,469.68 1514.94,472.7 1514.93,475.72 1514.92,478.73 1514.91,481.75 1514.9,484.77 1514.89,487.79 1514.88,490.8 1514.87,493.82 1514.87,496.84 1514.86,499.85 1514.86,502.87 1514.86,505.89 1514.86,508.9 1514.86,511.92 1514.87,514.93 1514.87,517.95 1514.88,520.96 1514.9,523.98 1514.92,526.99 1514.94,530.01 1514.96,533.02 1514.99,536.03 1515.02,539.04 1515.05,542.06 1515.09,545.07 1515.13,548.08 1515.18,551.09 1515.23,554.1 1515.29,557.11 1515.35,560.12 1515.42,563.13 1515.49,566.14 1515.57,569.15 1515.66,572.15 1515.75,575.16 1515.84,578.17 1515.95,581.17 1516.05,584.18 1516.17,587.18 1516.29,590.19 1516.42,593.19 1516.56,596.19 1516.7,599.19 1516.85,602.19 1517.01,605.19 1517.17,608.19 1517.35,611.19 1517.53,614.19 1517.72,617.19 1517.92,620.19 1518.13,623.18 1518.35,626.18 1518.57,629.17 1518.81,632.16 1519.05,635.16 1519.3,638.15 1519.57,641.14 1519.84,644.13 1520.12,647.12 1520.42,650.1 1520.72,653.09 1521.04,656.08 1521.36,659.06 1521.7,662.04 1522.04,665.03 1522.4,668.01 1522.77,670.99 1523.15,673.97 1523.55,676.95 1523.95,679.92 1524.37,682.9 1524.8,685.88 1525.24,688.85 1525.7,691.82 1526.17,694.79 1526.65,697.76 1527.14,700.73 1527.65,703.7 1528.17,706.67 1528.7,709.63 1529.25,712.6 1529.81,715.56 1530.39,718.52 1530.98,721.48 1531.59,724.44 1532.21,727.4 1532.84,730.36 1533.5,733.31 1534.16,736.26 1534.84,739.22 1535.54,742.17 1536.25,745.12 1536.98,748.06 1537.73,751.01 1538.49,753.96 1539.26,756.9 1540.06,759.84 1540.87,762.78 1541.7,765.72 1542.55,768.65 1543.41,771.59 1544.3,774.51 1545.2,777.43 1546.13,780.34 1547.07,783.25 1548.04,786.14 1549.03,789.03 1550.05,791.9 1551.09,794.76 1552.15,797.61 1553.24,800.45 1554.35,803.27 1555.5,806.07 1556.67,808.86 1557.86,811.63 1559.09,814.38 1560.34,817.11 1561.63,819.82 1562.95,822.51 1564.29,825.18 1565.67,827.82 1567.08,830.44 1568.53,833.03 1570.01,835.59 1571.52,838.13 1573.07,840.64 1574.66,843.12 1576.28,845.57 1577.94,847.99 1579.64,850.37 1581.37,852.72 1583.15,855.04 1584.96,857.32 1586.82,859.57 1588.72,861.78 1590.66,863.95 1592.64,866.08 1594.66,868.17 1596.73,870.22 1598.85,872.22 1601.01,874.18 1603.21,876.1 1605.46,877.97 1607.76,879.79 1610.11,881.57 1612.5,883.29 1614.95,884.96 1617.44,886.58 1619.98,888.14 1622.58,889.65 1625.22,891.1 1627.92,892.49 1630.67,893.82 1633.47,895.1 1636.33,896.31 1639.24,897.45 1642.2,898.54 1645.22,899.55 1648.3,900.5 1651,917.4" fill="none" stroke="#008000" stroke-width="6.5" stroke-linejoin="round" stroke-linecap="butt"/>
<ellipse cx="425.5" cy="972.5" rx="28.5" ry="28.5" fill="none" stroke="#ff00ff" stroke-width="5.5"/>
<line x1="337" y1="960.5" x2="397.5" y2="960.5" stroke="#ff00ff" stroke-width="6"/>
<polygon points="338,948 338,976 286,962" fill="#ff00ff"/>
<ellipse cx="1528" cy="597.6" rx="38" ry="38" fill="none" stroke="#008000" stroke-width="6.5"/>
<line x1="1557" y1="573" x2="1642" y2="573" stroke="#008000" stroke-width="6"/>
<polygon points="1640,560 1640,586 1687,573" fill="#008000"/>
<line x1="771.7" y1="423" x2="798.3" y2="423" stroke="#505050" stroke-width="6"/>
<line x1="833.2" y1="423" x2="861.7" y2="423" stroke="#505050" stroke-width="6"/>
<line x1="816.5" y1="378" x2="816.5" y2="405.5" stroke="#505050" stroke-width="6"/>
<line x1="816.5" y1="440.5" x2="816.5" y2="467.7" stroke="#505050" stroke-width="6"/>
<rect x="814.5" y="421" width="4" height="4" fill="#909090"/>
<line x1="284" y1="42" x2="1690" y2="42" stroke="#000" stroke-width="3.6"/>
<line x1="284" y1="1175" x2="1690" y2="1175" stroke="#151515" stroke-width="3.6"/>
<line x1="350.5" y1="42" x2="350.5" y2="64" stroke="#555" stroke-width="4"/>
<line x1="350.5" y1="1175" x2="350.5" y2="1153" stroke="#555" stroke-width="4"/>
<line x1="541.51" y1="42" x2="541.51" y2="64" stroke="#555" stroke-width="4"/>
<line x1="541.51" y1="1175" x2="541.51" y2="1153" stroke="#555" stroke-width="4"/>
<line x1="732.52" y1="42" x2="732.52" y2="64" stroke="#555" stroke-width="4"/>
<line x1="732.52" y1="1175" x2="732.52" y2="1153" stroke="#555" stroke-width="4"/>
<line x1="923.53" y1="42" x2="923.53" y2="64" stroke="#555" stroke-width="4"/>
<line x1="923.53" y1="1175" x2="923.53" y2="1153" stroke="#555" stroke-width="4"/>
<line x1="1114.54" y1="42" x2="1114.54" y2="64" stroke="#555" stroke-width="4"/>
<line x1="1114.54" y1="1175" x2="1114.54" y2="1153" stroke="#555" stroke-width="4"/>
<line x1="1305.55" y1="42" x2="1305.55" y2="64" stroke="#555" stroke-width="4"/>
<line x1="1305.55" y1="1175" x2="1305.55" y2="1153" stroke="#555" stroke-width="4"/>
<line x1="1496.56" y1="42" x2="1496.56" y2="64" stroke="#555" stroke-width="4"/>
<line x1="1496.56" y1="1175" x2="1496.56" y2="1153" stroke="#555" stroke-width="4"/>
<line x1="1687.57" y1="42" x2="1687.57" y2="64" stroke="#555" stroke-width="4"/>
<line x1="1687.57" y1="1175" x2="1687.57" y2="1153" stroke="#555" stroke-width="4"/>
<line x1="446" y1="42" x2="446" y2="55" stroke="#555" stroke-width="4"/>
<line x1="446" y1="1175" x2="446" y2="1162" stroke="#555" stroke-width="4"/>
<line x1="637.01" y1="42" x2="637.01" y2="55" stroke="#555" stroke-width="4"/>
<line x1="637.01" y1="1175" x2="637.01" y2="1162" stroke="#555" stroke-width="4"/>
<line x1="828.02" y1="42" x2="828.02" y2="55" stroke="#555" stroke-width="4"/>
<line x1="828.02" y1="1175" x2="828.02" y2="1162" stroke="#555" stroke-width="4"/>
<line x1="1019.03" y1="42" x2="1019.03" y2="55" stroke="#555" stroke-width="4"/>
<line x1="1019.03" y1="1175" x2="1019.03" y2="1162" stroke="#555" stroke-width="4"/>
<line x1="1210.05" y1="42" x2="1210.05" y2="55" stroke="#555" stroke-width="4"/>
<line x1="1210.05" y1="1175" x2="1210.05" y2="1162" stroke="#555" stroke-width="4"/>
<line x1="1401.06" y1="42" x2="1401.06" y2="55" stroke="#555" stroke-width="4"/>
<line x1="1401.06" y1="1175" x2="1401.06" y2="1162" stroke="#555" stroke-width="4"/>
<line x1="1592.07" y1="42" x2="1592.07" y2="55" stroke="#555" stroke-width="4"/>
<line x1="1592.07" y1="1175" x2="1592.07" y2="1162" stroke="#555" stroke-width="4"/>
<line x1="287.5" y1="1175" x2="312" y2="1175" stroke="#ff00ff" stroke-width="5"/>
<line x1="287.5" y1="1094.07" x2="300" y2="1094.07" stroke="#ff00ff" stroke-width="5"/>
<line x1="287.5" y1="1013.14" x2="312" y2="1013.14" stroke="#ff00ff" stroke-width="5"/>
<line x1="287.5" y1="932.21" x2="300" y2="932.21" stroke="#ff00ff" stroke-width="5"/>
<line x1="287.5" y1="851.29" x2="312" y2="851.29" stroke="#ff00ff" stroke-width="5"/>
<line x1="287.5" y1="770.36" x2="300" y2="770.36" stroke="#ff00ff" stroke-width="5"/>
<line x1="287.5" y1="689.43" x2="312" y2="689.43" stroke="#ff00ff" stroke-width="5"/>
<line x1="287.5" y1="608.5" x2="300" y2="608.5" stroke="#ff00ff" stroke-width="5"/>
<line x1="287.5" y1="527.57" x2="312" y2="527.57" stroke="#ff00ff" stroke-width="5"/>
<line x1="287.5" y1="446.64" x2="300" y2="446.64" stroke="#ff00ff" stroke-width="5"/>
<line x1="287.5" y1="365.71" x2="312" y2="365.71" stroke="#ff00ff" stroke-width="5"/>
<line x1="287.5" y1="284.79" x2="300" y2="284.79" stroke="#ff00ff" stroke-width="5"/>
<line x1="287.5" y1="203.86" x2="312" y2="203.86" stroke="#ff00ff" stroke-width="5"/>
<line x1="287.5" y1="122.93" x2="300" y2="122.93" stroke="#ff00ff" stroke-width="5"/>
<line x1="287.5" y1="42" x2="312" y2="42" stroke="#ff00ff" stroke-width="5"/>
<line x1="288" y1="40" x2="288" y2="1177" stroke="#ff00ff" stroke-width="6.5"/>
<line x1="1662" y1="1175" x2="1687.5" y2="1175" stroke="#008000" stroke-width="4.5"/>
<line x1="1674" y1="1104.19" x2="1687.5" y2="1104.19" stroke="#008000" stroke-width="4.5"/>
<line x1="1662" y1="1033.38" x2="1687.5" y2="1033.38" stroke="#008000" stroke-width="4.5"/>
<line x1="1674" y1="962.56" x2="1687.5" y2="962.56" stroke="#008000" stroke-width="4.5"/>
<line x1="1662" y1="891.75" x2="1687.5" y2="891.75" stroke="#008000" stroke-width="4.5"/>
<line x1="1674" y1="820.94" x2="1687.5" y2="820.94" stroke="#008000" stroke-width="4.5"/>
<line x1="1662" y1="750.12" x2="1687.5" y2="750.12" stroke="#008000" stroke-width="4.5"/>
<line x1="1674" y1="679.31" x2="1687.5" y2="679.31" stroke="#008000" stroke-width="4.5"/>
<line x1="1662" y1="608.5" x2="1687.5" y2="608.5" stroke="#008000" stroke-width="4.5"/>
<line x1="1674" y1="537.69" x2="1687.5" y2="537.69" stroke="#008000" stroke-width="4.5"/>
<line x1="1662" y1="466.88" x2="1687.5" y2="466.88" stroke="#008000" stroke-width="4.5"/>
<line x1="1674" y1="396.06" x2="1687.5" y2="396.06" stroke="#008000" stroke-width="4.5"/>
<line x1="1662" y1="325.25" x2="1687.5" y2="325.25" stroke="#008000" stroke-width="4.5"/>
<line x1="1674" y1="254.44" x2="1687.5" y2="254.44" stroke="#008000" stroke-width="4.5"/>
<line x1="1662" y1="183.62" x2="1687.5" y2="183.62" stroke="#008000" stroke-width="4.5"/>
<line x1="1674" y1="112.81" x2="1687.5" y2="112.81" stroke="#008000" stroke-width="4.5"/>
<line x1="1662" y1="42" x2="1687.5" y2="42" stroke="#008000" stroke-width="4.5"/>
<line x1="1687.5" y1="40" x2="1687.5" y2="1177" stroke="#008000" stroke-width="5"/>
<text transform="translate(182.47 1192.03) scale(0.6325 0.6471)" font-size="100" font-family="'Liberation Serif',serif" font-weight="normal" fill="#000" stroke="#fff" stroke-width="1.88" stroke-linejoin="round">0.5</text>
<text transform="translate(179.41 1030.17) scale(0.6578 0.6471)" font-size="100" font-family="'Liberation Serif',serif" font-weight="normal" fill="#000" stroke="#fff" stroke-width="1.84" stroke-linejoin="round">1.0</text>
<text transform="translate(179.41 868.31) scale(0.6578 0.6519)" font-size="100" font-family="'Liberation Serif',serif" font-weight="normal" fill="#000" stroke="#fff" stroke-width="1.83" stroke-linejoin="round">1.5</text>
<text transform="translate(182.14 706.46) scale(0.6352 0.6471)" font-size="100" font-family="'Liberation Serif',serif" font-weight="normal" fill="#000" stroke="#fff" stroke-width="1.87" stroke-linejoin="round">2.0</text>
<text transform="translate(182.14 544.59) scale(0.6352 0.6519)" font-size="100" font-family="'Liberation Serif',serif" font-weight="normal" fill="#000" stroke="#fff" stroke-width="1.86" stroke-linejoin="round">2.5</text>
<text transform="translate(182.14 382.74) scale(0.6352 0.6471)" font-size="100" font-family="'Liberation Serif',serif" font-weight="normal" fill="#000" stroke="#fff" stroke-width="1.87" stroke-linejoin="round">3.0</text>
<text transform="translate(182.14 220.88) scale(0.6352 0.6519)" font-size="100" font-family="'Liberation Serif',serif" font-weight="normal" fill="#000" stroke="#fff" stroke-width="1.86" stroke-linejoin="round">3.5</text>
<text transform="translate(183.76 59.03) scale(0.6218 0.6471)" font-size="100" font-family="'Liberation Serif',serif" font-weight="normal" fill="#000" stroke="#fff" stroke-width="1.89" stroke-linejoin="round">4.0</text>
<text transform="translate(1709.4 1191.54) scale(0.6496 0.6397)" font-size="100" font-family="'Liberation Serif',serif" font-weight="normal" fill="#000" stroke="#fff" stroke-width="1.86" stroke-linejoin="round">0.0</text>
<text transform="translate(1709.4 1049.92) scale(0.6496 0.6397)" font-size="100" font-family="'Liberation Serif',serif" font-weight="normal" fill="#000" stroke="#fff" stroke-width="1.86" stroke-linejoin="round">0.5</text>
<text transform="translate(1706.26 908.29) scale(0.6756 0.6397)" font-size="100" font-family="'Liberation Serif',serif" font-weight="normal" fill="#000" stroke="#fff" stroke-width="1.82" stroke-linejoin="round">1.0</text>
<text transform="translate(1706.26 766.66) scale(0.6756 0.6444)" font-size="100" font-family="'Liberation Serif',serif" font-weight="normal" fill="#000" stroke="#fff" stroke-width="1.82" stroke-linejoin="round">1.5</text>
<text transform="translate(1709.06 625.04) scale(0.6524 0.6397)" font-size="100" font-family="'Liberation Serif',serif" font-weight="normal" fill="#000" stroke="#fff" stroke-width="1.86" stroke-linejoin="round">2.0</text>
<text transform="translate(1709.06 483.41) scale(0.6524 0.6444)" font-size="100" font-family="'Liberation Serif',serif" font-weight="normal" fill="#000" stroke="#fff" stroke-width="1.85" stroke-linejoin="round">2.5</text>
<text transform="translate(1709.06 341.79) scale(0.6524 0.6397)" font-size="100" font-family="'Liberation Serif',serif" font-weight="normal" fill="#000" stroke="#fff" stroke-width="1.86" stroke-linejoin="round">3.0</text>
<text transform="translate(1709.06 200.16) scale(0.6524 0.6444)" font-size="100" font-family="'Liberation Serif',serif" font-weight="normal" fill="#000" stroke="#fff" stroke-width="1.85" stroke-linejoin="round">3.5</text>
<text transform="translate(1710.72 58.54) scale(0.6387 0.6397)" font-size="100" font-family="'Liberation Serif',serif" font-weight="normal" fill="#000" stroke="#fff" stroke-width="1.88" stroke-linejoin="round">4.0</text>
<text transform="translate(334.43 1248.82) scale(0.6429 0.6770)" font-size="100" font-family="'Liberation Serif',serif" font-weight="normal" fill="#000" stroke="#fff" stroke-width="1.82" stroke-linejoin="round">0</text>
<text transform="translate(509.11 1248.82) scale(0.6448 0.6770)" font-size="100" font-family="'Liberation Serif',serif" font-weight="normal" fill="#000" stroke="#fff" stroke-width="1.82" stroke-linejoin="round">30</text>
<text transform="translate(700.45 1248.82) scale(0.6413 0.6770)" font-size="100" font-family="'Liberation Serif',serif" font-weight="normal" fill="#000" stroke="#fff" stroke-width="1.82" stroke-linejoin="round">60</text>
<text transform="translate(892.13 1248.82) scale(0.6344 0.6770)" font-size="100" font-family="'Liberation Serif',serif" font-weight="normal" fill="#000" stroke="#fff" stroke-width="1.83" stroke-linejoin="round">90</text>
<text transform="translate(1066.22 1248.82) scale(0.6255 0.6770)" font-size="100" font-family="'Liberation Serif',serif" font-weight="normal" fill="#000" stroke="#fff" stroke-width="1.84" stroke-linejoin="round">120</text>
<text transform="translate(1257.23 1248.82) scale(0.6255 0.6770)" font-size="100" font-family="'Liberation Serif',serif" font-weight="normal" fill="#000" stroke="#fff" stroke-width="1.84" stroke-linejoin="round">150</text>
<text transform="translate(1448.24 1248.82) scale(0.6255 0.6770)" font-size="100" font-family="'Liberation Serif',serif" font-weight="normal" fill="#000" stroke="#fff" stroke-width="1.84" stroke-linejoin="round">180</text>
<text transform="translate(1641.84 1248.82) scale(0.6078 0.6770)" font-size="100" font-family="'Liberation Serif',serif" font-weight="normal" fill="#000" stroke="#fff" stroke-width="1.87" stroke-linejoin="round">210</text>
<text transform="translate(779 1346.41) scale(0.9974 0.9297)" font-size="100" font-family="'Liberation Serif',serif" font-weight="bold" fill="#000">Time (s)</text>
<text transform="translate(97.99 1166.01) rotate(-90) scale(1.0051 0.9495)" font-size="100" font-family="'Liberation Serif',serif" font-weight="bold" fill="#000">Normalized current (a.u.)</text>
<text transform="translate(343.4 145.78) scale(0.8892 0.8473)" font-size="100" font-family="'Liberation Serif',serif" font-weight="normal" fill="#1a1a2a" stroke="#fff" stroke-width="2.76" stroke-linejoin="round">(a)</text>
<rect x="354.5" y="1482" width="628" height="100" fill="#ff0000"/>
<rect x="982.5" y="1483" width="629.2" height="98.5" fill="#808080"/>
<text transform="translate(546.37 1556.54) scale(0.7306 0.7763)" font-size="100" font-family="'Liberation Serif',serif" font-weight="bold" fill="#fff">UV ON</text>
<text transform="translate(1147.03 1558.99) scale(0.7487 0.7393)" font-size="100" font-family="'Liberation Serif',serif" font-weight="bold" fill="#fff">UV OFF</text>
<clipPath id="cbL"><rect x="0" y="1400" width="354.5" height="300"/></clipPath><clipPath id="cbR"><rect x="354.5" y="1400" width="700" height="300"/></clipPath>
<g clip-path="url(#cbL)">
<text transform="translate(294.46 1565.78) scale(0.8759 0.8473)" font-size="100" font-family="'Liberation Serif',serif" font-weight="normal" fill="#1a1a2a" stroke="#fff" stroke-width="2.32" stroke-linejoin="round">(b)</text>
</g>
<g clip-path="url(#cbR)">
<text transform="translate(294.46 1565.78) scale(0.8759 0.8473)" font-size="100" font-family="'Liberation Serif',serif" font-weight="normal" fill="#3a0000" stroke="#ff0000" stroke-width="2.32" stroke-linejoin="round">(b)</text>
</g>
<rect x="1103" y="1708.8" width="537" height="283.8" fill="#000"/>
<rect x="1636" y="1708.8" width="4" height="283.8" fill="#999"/>
<rect x="1103" y="1988.6" width="533" height="4" fill="#484848"/>
<rect x="1083" y="1688.9" width="540.7" height="287.1" fill="#fff"/>
<rect x="1083" y="1688.9" width="540.7" height="3.9" fill="#999"/>
<rect x="1083" y="1692.8" width="8" height="283.2" fill="#cacaca"/>
<rect x="1619.8" y="1692.8" width="3.9" height="283.2" fill="#1c1c1c"/>
<rect x="1091" y="1972.1" width="528.8" height="3.9" fill="#222"/>
<line x1="1095" y1="1753.6" x2="1182" y2="1753.6" stroke="#008000" stroke-width="7"/>
<line x1="1095" y1="1872" x2="1182" y2="1872" stroke="#ff00ff" stroke-width="7"/>
<text transform="translate(1193.33 1765.73) scale(0.7937 0.7716)" font-size="100" font-family="'Liberation Serif',serif" font-weight="normal" fill="#000" stroke="#fff" stroke-width="1.53" stroke-linejoin="round">O</text>
<text transform="translate(1248.03 1795.8) scale(0.4600 0.4758)" font-size="100" font-family="'Liberation Serif',serif" font-weight="normal" fill="#000" stroke="#fff" stroke-width="1.50" stroke-linejoin="round">2</text>
<text transform="translate(1268.71 1767.35) scale(0.7406 0.7560)" font-size="100" font-family="'Liberation Serif',serif" font-weight="normal" fill="#000" stroke="#fff" stroke-width="1.60" stroke-linejoin="round">-plasma</text>
<text transform="translate(1190.05 1882.71) scale(0.7817 0.7880)" font-size="100" font-family="'Liberation Serif',serif" font-weight="normal" fill="#000" stroke="#fff" stroke-width="1.53" stroke-linejoin="round">No</text>
<text transform="translate(1301.37 1882.82) scale(0.8078 0.7836)" font-size="100" font-family="'Liberation Serif',serif" font-weight="normal" fill="#000" stroke="#fff" stroke-width="1.51" stroke-linejoin="round">O</text>
<text transform="translate(1356.15 1912.1) scale(0.4775 0.4758)" font-size="100" font-family="'Liberation Serif',serif" font-weight="normal" fill="#000" stroke="#fff" stroke-width="1.47" stroke-linejoin="round">2</text>
<text transform="translate(1376.79 1883.65) scale(0.7448 0.7560)" font-size="100" font-family="'Liberation Serif',serif" font-weight="normal" fill="#000" stroke="#fff" stroke-width="1.60" stroke-linejoin="round">-plasma</text>
<polyline points="271,2565 274,2565.18 277,2565.36 279.99,2565.53 282.99,2565.69 285.99,2565.85 288.99,2566.01 291.99,2566.15 294.99,2566.3 297.98,2566.44 300.98,2566.57 303.98,2566.7 306.98,2566.82 309.98,2566.93 312.98,2567.05 315.98,2567.15 318.98,2567.25 321.98,2567.35 324.98,2567.44 327.99,2567.52 330.99,2567.6 333.99,2567.67 336.99,2567.74 339.99,2567.8 342.99,2567.86 346,2567.91 349,2567.96 352,2568 354,2450 356.73,2448.68 359.46,2447.36 362.19,2446.05 364.93,2444.75 367.67,2443.46 370.41,2442.18 373.16,2440.91 375.9,2439.64 378.65,2438.39 381.41,2437.14 384.16,2435.9 386.92,2434.68 389.69,2433.46 392.45,2432.24 395.22,2431.04 397.99,2429.84 400.76,2428.66 403.54,2427.48 406.32,2426.31 409.1,2425.15 411.88,2424 414.67,2422.85 417.46,2421.72 420.25,2420.59 423.04,2419.47 425.84,2418.36 428.64,2417.25 431.44,2416.16 434.24,2415.07 437.05,2413.99 439.86,2412.92 442.67,2411.85 445.49,2410.8 448.3,2409.75 451.12,2408.71 453.95,2407.68 456.77,2406.65 459.6,2405.64 462.42,2404.63 465.26,2403.63 468.09,2402.63 470.92,2401.65 473.76,2400.67 476.6,2399.7 479.45,2398.74 482.29,2397.78 485.14,2396.83 487.99,2395.89 490.84,2394.96 493.69,2394.03 496.55,2393.11 499.41,2392.2 502.27,2391.29 505.13,2390.4 507.99,2389.51 510.86,2388.62 513.73,2387.75 516.6,2386.88 519.47,2386.02 522.34,2385.16 525.22,2384.31 528.1,2383.47 530.98,2382.64 533.86,2381.81 536.75,2380.99 539.63,2380.18 542.52,2379.37 545.41,2378.57 548.3,2377.78 551.2,2376.99 554.09,2376.21 556.99,2375.43 559.89,2374.67 562.79,2373.91 565.69,2373.15 568.6,2372.4 571.51,2371.66 574.41,2370.93 577.32,2370.2 580.23,2369.48 583.15,2368.76 586.06,2368.05 588.98,2367.35 591.9,2366.65 594.82,2365.96 597.74,2365.27 600.66,2364.59 603.59,2363.92 606.51,2363.25 609.44,2362.59 612.37,2361.94 615.3,2361.29 618.23,2360.64 621.16,2360.01 624.1,2359.37 627.04,2358.75 629.97,2358.13 632.91,2357.51 635.85,2356.9 638.79,2356.3 641.74,2355.7 644.68,2355.11 647.63,2354.52 650.58,2353.94 653.52,2353.36 656.47,2352.79 659.42,2352.23 662.38,2351.67 665.33,2351.11 668.29,2350.56 671.24,2350.02 674.2,2349.48 677.16,2348.95 680.12,2348.42 683.08,2347.9 686.04,2347.38 689,2346.86 691.96,2346.36 694.93,2345.85 697.89,2345.35 700.86,2344.86 703.83,2344.37 706.8,2343.89 709.77,2343.41 712.74,2342.93 715.71,2342.46 718.68,2342 721.66,2341.54 724.63,2341.08 727.61,2340.63 730.58,2340.19 733.56,2339.74 736.54,2339.31 739.51,2338.87 742.49,2338.45 745.47,2338.02 748.46,2337.6 751.44,2337.19 754.42,2336.78 757.4,2336.37 760.39,2335.97 763.37,2335.57 766.36,2335.17 769.34,2334.78 772.33,2334.4 775.32,2334.01 778.3,2333.63 781.29,2333.26 784.28,2332.89 787.27,2332.52 790.26,2332.16 793.25,2331.8 796.24,2331.45 799.23,2331.1 802.22,2330.75 805.22,2330.41 808.21,2330.07 811.2,2329.73 814.2,2329.4 817.19,2329.07 820.18,2328.74 823.18,2328.42 826.17,2328.1 829.17,2327.78 832.16,2327.47 835.16,2327.16 838.16,2326.86 841.15,2326.56 844.15,2326.26 847.15,2325.96 850.14,2325.67 853.14,2325.38 856.14,2325.09 859.14,2324.81 862.13,2324.53 865.13,2324.25 868.13,2323.98 871.13,2323.71 874.13,2323.44 877.12,2323.18 880.12,2322.91 883.12,2322.65 886.12,2322.4 889.12,2322.14 892.11,2321.89 895.11,2321.64 898.11,2321.4 901.11,2321.15 904.11,2320.91 907.11,2320.67 910.1,2320.44 913.1,2320.2 916.1,2319.97 919.1,2319.74 922.09,2319.52 925.09,2319.29 928.09,2319.07 931.08,2318.85 934.08,2318.64 937.08,2318.42 940.07,2318.21 943.07,2318 946.06,2317.79 949.06,2317.58 952.05,2317.38 955.04,2317.18 958.04,2316.97 961.03,2316.78 964.02,2316.58 967.02,2316.38 970.01,2316.19 973,2316 977,2451.4 979.78,2452.58 982.56,2453.75 985.35,2454.92 988.14,2456.08 990.93,2457.23 993.72,2458.37 996.52,2459.5 999.32,2460.63 1002.12,2461.75 1004.93,2462.86 1007.73,2463.96 1010.54,2465.06 1013.36,2466.14 1016.17,2467.22 1018.99,2468.3 1021.81,2469.36 1024.63,2470.42 1027.45,2471.47 1030.28,2472.51 1033.11,2473.54 1035.94,2474.57 1038.77,2475.59 1041.61,2476.6 1044.45,2477.61 1047.29,2478.61 1050.13,2479.6 1052.97,2480.58 1055.82,2481.56 1058.67,2482.52 1061.52,2483.49 1064.38,2484.44 1067.23,2485.39 1070.09,2486.33 1072.95,2487.26 1075.82,2488.19 1078.68,2489.1 1081.55,2490.02 1084.42,2490.92 1087.29,2491.82 1090.16,2492.71 1093.04,2493.59 1095.91,2494.47 1098.79,2495.34 1101.67,2496.2 1104.56,2497.06 1107.44,2497.91 1110.33,2498.75 1113.22,2499.59 1116.11,2500.42 1119,2501.24 1121.9,2502.06 1124.79,2502.86 1127.69,2503.67 1130.59,2504.46 1133.5,2505.25 1136.4,2506.04 1139.31,2506.81 1142.21,2507.58 1145.12,2508.35 1148.03,2509.1 1150.95,2509.86 1153.86,2510.6 1156.78,2511.34 1159.69,2512.07 1162.61,2512.8 1165.54,2513.52 1168.46,2514.23 1171.38,2514.94 1174.31,2515.64 1177.24,2516.33 1180.17,2517.02 1183.1,2517.7 1186.03,2518.38 1188.96,2519.05 1191.9,2519.71 1194.83,2520.37 1197.77,2521.02 1200.71,2521.67 1203.65,2522.31 1206.59,2522.95 1209.54,2523.57 1212.48,2524.2 1215.43,2524.81 1218.38,2525.43 1221.33,2526.03 1224.28,2526.63 1227.23,2527.23 1230.18,2527.81 1233.14,2528.4 1236.09,2528.97 1239.05,2529.55 1242.01,2530.11 1244.97,2530.67 1247.93,2531.23 1250.89,2531.78 1253.85,2532.32 1256.82,2532.86 1259.78,2533.39 1262.75,2533.92 1265.72,2534.44 1268.68,2534.96 1271.65,2535.47 1274.62,2535.98 1277.6,2536.48 1280.57,2536.98 1283.54,2537.47 1286.52,2537.95 1289.49,2538.43 1292.47,2538.91 1295.45,2539.38 1298.42,2539.85 1301.4,2540.31 1304.38,2540.76 1307.36,2541.21 1310.35,2541.66 1313.33,2542.1 1316.31,2542.53 1319.3,2542.96 1322.28,2543.39 1325.27,2543.81 1328.25,2544.23 1331.24,2544.64 1334.23,2545.05 1337.22,2545.45 1340.21,2545.85 1343.2,2546.24 1346.19,2546.63 1349.18,2547.01 1352.17,2547.39 1355.16,2547.76 1358.16,2548.13 1361.15,2548.5 1364.14,2548.86 1367.14,2549.22 1370.14,2549.57 1373.13,2549.92 1376.13,2550.26 1379.12,2550.6 1382.12,2550.93 1385.12,2551.26 1388.12,2551.59 1391.12,2551.91 1394.12,2552.23 1397.11,2552.54 1400.11,2552.85 1403.11,2553.16 1406.12,2553.46 1409.12,2553.75 1412.12,2554.05 1415.12,2554.34 1418.12,2554.62 1421.12,2554.9 1424.12,2555.18 1427.13,2555.45 1430.13,2555.72 1433.13,2555.99 1436.14,2556.25 1439.14,2556.5 1442.14,2556.76 1445.14,2557.01 1448.15,2557.26 1451.15,2557.5 1454.16,2557.74 1457.16,2557.97 1460.16,2558.2 1463.17,2558.43 1466.17,2558.66 1469.17,2558.88 1472.18,2559.1 1475.18,2559.31 1478.19,2559.52 1481.19,2559.73 1484.19,2559.93 1487.2,2560.13 1490.2,2560.33 1493.2,2560.52 1496.21,2560.71 1499.21,2560.9 1502.21,2561.08 1505.21,2561.26 1508.22,2561.44 1511.22,2561.61 1514.22,2561.79 1517.22,2561.95 1520.22,2562.12 1523.22,2562.28 1526.22,2562.44 1529.22,2562.59 1532.22,2562.75 1535.22,2562.9 1538.22,2563.04 1541.22,2563.19 1544.22,2563.33 1547.22,2563.47 1550.22,2563.6 1553.21,2563.74 1556.21,2563.87 1559.21,2563.99 1562.2,2564.12 1565.2,2564.24 1568.19,2564.36 1571.18,2564.47 1574.18,2564.59 1577.17,2564.7 1580.16,2564.81 1583.15,2564.91 1586.15,2565.02 1589.14,2565.12 1592.13,2565.22 1595.11,2565.31 1598.1,2565.41 1601.09,2565.5 1604.08,2565.59 1607.06,2565.67 1610.05,2565.76 1613.03,2565.84 1616.02,2565.92 1619,2566 1621,2441 1623.72,2439.5 1626.45,2438.02 1629.19,2436.56 1631.93,2435.13 1634.69,2433.72 1637.46,2432.33 1640.23,2430.97 1643.02,2429.62 1645.81,2428.3 1648.62,2427.01 1651.43,2425.73 1654.26,2424.48 1657.09,2423.25 1659.93,2422.04 1662.78,2420.86 1665.64,2419.7 1668.51,2418.56 1671.39,2417.44 1674.28,2416.35 1677.18,2415.27 1680.08,2414.23 1683,2413.2" fill="none" stroke="#ff00ff" stroke-width="8" stroke-linejoin="round" stroke-linecap="butt"/>
<polyline points="271,2567 302.5,2578 335,2586 353,2578 359.5,2568 360.15,2565.08 360.8,2562.15 361.45,2559.22 362.09,2556.3 362.72,2553.37 363.35,2550.44 363.98,2547.51 364.6,2544.58 365.22,2541.65 365.83,2538.72 366.44,2535.79 367.05,2532.86 367.65,2529.92 368.24,2526.99 368.84,2524.05 369.43,2521.12 370.01,2518.18 370.59,2515.24 371.17,2512.31 371.75,2509.37 372.32,2506.43 372.88,2503.49 373.45,2500.55 374.01,2497.61 374.57,2494.66 375.12,2491.72 375.67,2488.78 376.22,2485.83 376.77,2482.89 377.31,2479.94 377.85,2477 378.38,2474.05 378.92,2471.11 379.45,2468.16 379.97,2465.21 380.5,2462.26 381.02,2459.31 381.54,2456.37 382.06,2453.42 382.58,2450.46 383.09,2447.51 383.6,2444.56 384.11,2441.61 384.62,2438.66 385.12,2435.71 385.63,2432.75 386.13,2429.8 386.63,2426.85 387.12,2423.89 387.62,2420.94 388.11,2417.98 388.6,2415.03 389.1,2412.07 389.59,2409.11 390.07,2406.16 390.56,2403.2 391.05,2400.24 391.53,2397.28 392.01,2394.33 392.49,2391.37 392.98,2388.41 393.45,2385.45 393.93,2382.49 394.41,2379.53 394.89,2376.57 395.37,2373.61 395.84,2370.65 396.32,2367.69 396.79,2364.73 397.27,2361.77 397.74,2358.81 398.21,2355.84 398.69,2352.88 399.16,2349.92 399.63,2346.96 400.11,2344 400.58,2341.03 401.05,2338.07 401.53,2335.11 402,2332.15 402.47,2329.18 402.95,2326.22 403.42,2323.26 403.9,2320.29 404.37,2317.33 404.85,2314.37 405.32,2311.4 405.8,2308.44 406.28,2305.48 406.76,2302.51 407.23,2299.55 407.71,2296.59 408.2,2293.62 408.68,2290.66 409.16,2287.69 409.65,2284.73 410.13,2281.77 410.62,2278.8 411.11,2275.84 411.6,2272.88 412.09,2269.91 412.58,2266.95 413.08,2263.99 413.57,2261.02 414.07,2258.06 414.57,2255.1 415.07,2252.13 415.57,2249.17 416.08,2246.21 416.59,2243.24 417.1,2240.28 417.61,2237.32 418.12,2234.36 418.64,2231.4 419.16,2228.43 419.68,2225.47 420.2,2222.51 420.73,2219.55 421.26,2216.59 421.79,2213.63 422.32,2210.67 422.86,2207.71 423.4,2204.75 423.94,2201.79 424.49,2198.83 425.04,2195.87 425.59,2192.91 426.14,2189.95 426.7,2186.99 427.26,2184.03 427.83,2181.08 428.4,2178.12 428.97,2175.16 429.54,2172.21 430.12,2169.25 430.71,2166.29 431.29,2163.34 431.88,2160.38 432.48,2157.43 433.08,2154.47 433.68,2151.52 434.28,2148.57 434.89,2145.61 435.51,2142.66 436.13,2139.71 436.75,2136.76 437.38,2133.81 438.01,2130.86 438.65,2127.91 439.29,2124.96 439.93,2122.01 440.58,2119.06 441.24,2116.11 441.9,2113.16 442.56,2110.22 443.23,2107.27 443.91,2104.32 444.59,2101.38 445.27,2098.43 445.96,2095.49 446.66,2092.55 447.36,2089.6 448.06,2086.66 448.78,2083.72 449.49,2080.78 450.21,2077.84 450.94,2074.9 451.68,2071.96 452.42,2069.02 453.16,2066.08 453.91,2063.15 454.67,2060.21 455.43,2057.27 456.2,2054.34 456.98,2051.41 457.76,2048.47 458.55,2045.54 459.34,2042.61 460.14,2039.68 460.95,2036.75 461.77,2033.83 462.59,2030.9 463.42,2027.98 464.25,2025.05 465.09,2022.14 465.94,2019.22 466.8,2016.3 467.66,2013.39 468.53,2010.48 469.41,2007.57 470.3,2004.66 471.19,2001.76 472.1,1998.86 473.01,1995.96 473.93,1993.07 474.85,1990.18 475.79,1987.29 476.73,1984.41 477.68,1981.53 478.64,1978.65 479.61,1975.78 480.59,1972.91 481.57,1970.04 482.57,1967.18 483.57,1964.33 484.58,1961.47 485.61,1958.63 486.64,1955.78 487.68,1952.94 488.73,1950.11 489.79,1947.28 490.86,1944.46 491.94,1941.64 493.03,1938.82 494.12,1936.02 495.23,1933.21 496.35,1930.42 497.48,1927.62 498.62,1924.84 499.77,1922.06 500.93,1919.29 502.1,1916.52 503.28,1913.76 504.48,1911 505.68,1908.25 506.89,1905.51 508.12,1902.78 509.35,1900.05 510.6,1897.33 511.86,1894.61 513.13,1891.91 514.41,1889.21 515.7,1886.52 517.01,1883.83 518.33,1881.15 519.66,1878.49 521,1875.82 522.35,1873.17 523.71,1870.53 525.09,1867.89 526.48,1865.26 527.88,1862.64 529.3,1860.03 530.72,1857.43 532.16,1854.83 533.62,1852.25 535.08,1849.67 536.56,1847.1 538.05,1844.55 539.56,1842 541.08,1839.46 542.61,1836.93 544.15,1834.41 545.71,1831.9 547.28,1829.4 548.87,1826.91 550.47,1824.43 552.08,1821.96 553.71,1819.5 555.35,1817.05 557.01,1814.62 558.68,1812.19 560.37,1809.77 562.06,1807.37 563.78,1804.97 565.51,1802.59 567.25,1800.22 569.01,1797.86 570.78,1795.51 572.57,1793.17 574.37,1790.85 576.19,1788.53 578.02,1786.23 579.87,1783.94 581.73,1781.66 583.61,1779.4 585.5,1777.14 587.4,1774.9 589.32,1772.67 591.25,1770.45 593.2,1768.25 595.16,1766.05 597.13,1763.87 599.12,1761.7 601.13,1759.55 603.14,1757.41 605.17,1755.28 607.22,1753.16 609.27,1751.05 611.35,1748.96 613.43,1746.88 615.53,1744.82 617.64,1742.77 619.77,1740.73 621.91,1738.7 624.06,1736.69 626.22,1734.69 628.4,1732.7 630.59,1730.73 632.8,1728.77 635.02,1726.83 637.25,1724.9 639.49,1722.98 641.75,1721.08 644.02,1719.19 646.3,1717.31 648.6,1715.45 650.9,1713.61 653.22,1711.77 655.56,1709.96 657.9,1708.15 660.26,1706.36 662.63,1704.59 665.01,1702.83 667.41,1701.08 669.81,1699.35 672.23,1697.64 674.67,1695.94 677.11,1694.25 679.56,1692.58 682.03,1690.92 684.51,1689.28 687,1687.66 689.5,1686.05 692.02,1684.45 694.55,1682.88 697.08,1681.31 699.63,1679.76 702.19,1678.23 704.77,1676.72 707.35,1675.21 709.94,1673.73 712.55,1672.26 715.17,1670.8 717.79,1669.37 720.43,1667.94 723.08,1666.54 725.74,1665.14 728.4,1663.77 731.08,1662.41 733.77,1661.06 736.46,1659.73 739.17,1658.42 741.89,1657.12 744.61,1655.84 747.35,1654.57 750.09,1653.32 752.84,1652.09 755.6,1650.87 758.37,1649.66 761.15,1648.47 763.93,1647.3 766.72,1646.14 769.53,1645 772.33,1643.87 775.15,1642.76 777.97,1641.67 780.81,1640.59 783.64,1639.52 786.49,1638.47 789.34,1637.44 792.2,1636.42 795.07,1635.42 797.94,1634.44 800.82,1633.46 803.7,1632.51 806.59,1631.57 809.49,1630.65 812.39,1629.74 815.3,1628.84 818.21,1627.97 821.13,1627.1 824.05,1626.26 826.98,1625.43 829.91,1624.61 832.85,1623.81 835.79,1623.02 838.74,1622.25 841.69,1621.5 844.64,1620.76 847.6,1620.04 850.56,1619.33 853.53,1618.63 856.5,1617.95 859.47,1617.29 862.44,1616.64 865.42,1616.01 868.4,1615.39 871.38,1614.78 874.36,1614.2 877.35,1613.62 880.33,1613.06 883.32,1612.52 886.32,1611.99 889.31,1611.48 892.3,1610.98 895.3,1610.49 898.29,1610.02 901.29,1609.57 904.29,1609.13 907.28,1608.7 910.28,1608.29 913.28,1607.89 916.28,1607.51 919.27,1607.14 922.27,1606.79 925.27,1606.45 928.26,1606.13 931.26,1605.82 934.25,1605.53 937.24,1605.25 940.24,1604.98 943.23,1604.73 946.21,1604.49 949.2,1604.27 952.18,1604.06 955.17,1603.87 958.15,1603.69 961.12,1603.52 964.1,1603.37 967.07,1603.23 970.04,1603.11 973,1603 973.15,1605.99 973.29,1608.98 973.43,1611.97 973.58,1614.96 973.72,1617.95 973.86,1620.95 974,1623.94 974.13,1626.93 974.27,1629.93 974.41,1632.93 974.54,1635.92 974.67,1638.92 974.81,1641.92 974.94,1644.91 975.07,1647.91 975.2,1650.91 975.33,1653.91 975.46,1656.91 975.59,1659.91 975.72,1662.92 975.84,1665.92 975.97,1668.92 976.1,1671.93 976.23,1674.93 976.35,1677.93 976.48,1680.94 976.6,1683.94 976.73,1686.95 976.85,1689.96 976.98,1692.96 977.1,1695.97 977.23,1698.98 977.35,1701.99 977.48,1704.99 977.6,1708 977.73,1711.01 977.85,1714.02 977.98,1717.03 978.11,1720.04 978.23,1723.05 978.36,1726.06 978.49,1729.07 978.61,1732.09 978.74,1735.1 978.87,1738.11 979,1741.12 979.13,1744.13 979.26,1747.15 979.39,1750.16 979.52,1753.17 979.66,1756.19 979.79,1759.2 979.92,1762.21 980.06,1765.23 980.2,1768.24 980.33,1771.26 980.47,1774.27 980.61,1777.29 980.75,1780.3 980.89,1783.32 981.04,1786.33 981.18,1789.34 981.33,1792.36 981.48,1795.37 981.62,1798.39 981.77,1801.4 981.93,1804.42 982.08,1807.44 982.23,1810.45 982.39,1813.47 982.55,1816.48 982.71,1819.5 982.87,1822.51 983.03,1825.53 983.2,1828.54 983.36,1831.56 983.53,1834.57 983.7,1837.58 983.88,1840.6 984.05,1843.61 984.23,1846.63 984.41,1849.64 984.59,1852.66 984.77,1855.67 984.96,1858.68 985.15,1861.7 985.34,1864.71 985.53,1867.72 985.73,1870.73 985.93,1873.75 986.13,1876.76 986.33,1879.77 986.53,1882.78 986.74,1885.79 986.95,1888.81 987.17,1891.82 987.39,1894.83 987.61,1897.84 987.83,1900.85 988.05,1903.86 988.28,1906.86 988.51,1909.87 988.75,1912.88 988.99,1915.89 989.23,1918.9 989.47,1921.9 989.72,1924.91 989.97,1927.92 990.22,1930.92 990.48,1933.93 990.74,1936.93 991,1939.94 991.27,1942.94 991.54,1945.94 991.82,1948.95 992.1,1951.95 992.38,1954.95 992.66,1957.95 992.95,1960.95 993.25,1963.95 993.54,1966.95 993.84,1969.95 994.15,1972.95 994.46,1975.94 994.77,1978.94 995.09,1981.94 995.41,1984.93 995.74,1987.93 996.07,1990.92 996.4,1993.91 996.74,1996.91 997.08,1999.9 997.43,2002.89 997.78,2005.88 998.13,2008.87 998.49,2011.86 998.86,2014.85 999.23,2017.83 999.6,2020.82 999.98,2023.81 1000.36,2026.79 1000.75,2029.77 1001.15,2032.76 1001.54,2035.74 1001.95,2038.72 1002.35,2041.7 1002.77,2044.68 1003.18,2047.66 1003.61,2050.64 1004.03,2053.61 1004.47,2056.59 1004.91,2059.57 1005.35,2062.54 1005.8,2065.51 1006.25,2068.48 1006.71,2071.46 1007.18,2074.43 1007.65,2077.4 1008.12,2080.36 1008.6,2083.33 1009.09,2086.3 1009.58,2089.26 1010.08,2092.22 1010.59,2095.19 1011.1,2098.15 1011.61,2101.11 1012.13,2104.07 1012.66,2107.03 1013.19,2109.98 1013.73,2112.94 1014.28,2115.89 1014.83,2118.85 1015.39,2121.8 1015.95,2124.75 1016.52,2127.7 1017.1,2130.65 1017.68,2133.6 1018.27,2136.54 1018.87,2139.49 1019.47,2142.43 1020.07,2145.37 1020.69,2148.31 1021.31,2151.25 1021.94,2154.19 1022.57,2157.13 1023.21,2160.07 1023.86,2163 1024.52,2165.93 1025.18,2168.86 1025.85,2171.8 1026.52,2174.72 1027.2,2177.65 1027.89,2180.58 1028.59,2183.5 1029.29,2186.43 1030,2189.35 1030.72,2192.27 1031.44,2195.19 1032.18,2198.1 1032.92,2201.02 1033.66,2203.93 1034.42,2206.85 1035.18,2209.76 1035.95,2212.67 1036.72,2215.57 1037.51,2218.48 1038.3,2221.39 1039.1,2224.29 1039.9,2227.19 1040.72,2230.09 1041.54,2232.99 1042.37,2235.89 1043.21,2238.78 1044.06,2241.67 1044.91,2244.57 1045.77,2247.46 1046.64,2250.35 1047.52,2253.23 1048.4,2256.12 1049.3,2259 1050.86,2261.74 1052.44,2264.47 1054.03,2267.19 1055.63,2269.88 1057.25,2272.57 1058.88,2275.23 1060.53,2277.88 1062.19,2280.52 1063.87,2283.14 1065.55,2285.74 1067.26,2288.33 1068.97,2290.91 1070.7,2293.47 1072.44,2296.01 1074.2,2298.54 1075.97,2301.05 1077.75,2303.55 1079.55,2306.03 1081.36,2308.5 1083.18,2310.95 1085.02,2313.39 1086.86,2315.81 1088.72,2318.22 1090.6,2320.61 1092.48,2322.99 1094.38,2325.36 1096.29,2327.71 1098.22,2330.04 1100.15,2332.37 1102.1,2334.67 1104.06,2336.97 1106.03,2339.24 1108.02,2341.51 1110.02,2343.76 1112.02,2345.99 1114.04,2348.22 1116.08,2350.42 1118.12,2352.62 1120.17,2354.8 1122.24,2356.97 1124.32,2359.12 1126.41,2361.26 1128.51,2363.38 1130.62,2365.5 1132.74,2367.59 1134.88,2369.68 1137.02,2371.75 1139.18,2373.81 1141.35,2375.85 1143.52,2377.89 1145.71,2379.91 1147.91,2381.91 1150.12,2383.9 1152.34,2385.88 1154.57,2387.85 1156.81,2389.8 1159.06,2391.74 1161.32,2393.67 1163.59,2395.59 1165.87,2397.49 1168.16,2399.38 1170.46,2401.26 1172.77,2403.12 1175.09,2404.97 1177.42,2406.81 1179.76,2408.64 1182.11,2410.46 1184.47,2412.26 1186.83,2414.05 1189.21,2415.83 1191.6,2417.6 1193.99,2419.35 1196.39,2421.1 1198.81,2422.83 1201.23,2424.55 1203.66,2426.25 1206.09,2427.95 1208.54,2429.63 1211,2431.31 1213.46,2432.97 1215.93,2434.62 1218.41,2436.26 1220.9,2437.88 1223.4,2439.5 1225.91,2441.1 1228.42,2442.69 1230.94,2444.28 1233.47,2445.85 1236,2447.41 1238.55,2448.95 1241.1,2450.49 1243.66,2452.02 1246.23,2453.53 1248.8,2455.04 1251.38,2456.53 1253.97,2458.02 1256.57,2459.49 1259.17,2460.95 1261.78,2462.4 1264.4,2463.85 1267.02,2465.28 1269.65,2466.7 1272.29,2468.11 1274.93,2469.51 1277.58,2470.9 1280.24,2472.28 1282.9,2473.65 1285.57,2475.01 1288.25,2476.36 1290.93,2477.7 1293.61,2479.03 1296.31,2480.35 1299.01,2481.66 1301.71,2482.96 1304.42,2484.25 1307.14,2485.54 1309.86,2486.81 1312.59,2488.07 1315.33,2489.33 1318.06,2490.57 1320.81,2491.81 1323.56,2493.03 1326.31,2494.25 1329.07,2495.46 1331.84,2496.65 1334.61,2497.84 1337.38,2499.03 1340.16,2500.2 1342.94,2501.36 1345.73,2502.51 1348.53,2503.66 1351.32,2504.8 1354.13,2505.93 1356.93,2507.05 1359.74,2508.16 1362.56,2509.26 1365.38,2510.35 1368.2,2511.44 1371.03,2512.52 1373.86,2513.59 1376.69,2514.65 1379.53,2515.7 1382.37,2516.75 1385.21,2517.79 1388.06,2518.81 1390.92,2519.84 1393.77,2520.85 1396.63,2521.86 1399.49,2522.85 1402.36,2523.84 1405.22,2524.83 1408.09,2525.8 1410.97,2526.77 1413.84,2527.73 1416.72,2528.69 1419.61,2529.63 1422.49,2530.57 1425.38,2531.5 1428.27,2532.43 1431.16,2533.34 1434.05,2534.25 1436.95,2535.16 1439.84,2536.05 1442.74,2536.94 1445.65,2537.82 1448.55,2538.7 1451.46,2539.57 1454.36,2540.43 1457.27,2541.29 1460.18,2542.14 1463.09,2542.98 1466.01,2543.82 1468.92,2544.65 1471.84,2545.47 1474.76,2546.29 1477.67,2547.1 1480.59,2547.9 1483.51,2548.7 1486.43,2549.49 1489.36,2550.28 1492.28,2551.06 1495.2,2551.84 1498.13,2552.61 1501.05,2553.37 1503.97,2554.13 1506.9,2554.88 1509.82,2555.63 1512.75,2556.37 1515.68,2557.1 1518.6,2557.83 1521.53,2558.56 1524.45,2559.28 1527.38,2559.99 1530.3,2560.7 1533.23,2561.41 1536.15,2562.11 1539.07,2562.8 1542,2563.49 1544.92,2564.17 1547.84,2564.85 1550.76,2565.53 1553.68,2566.19 1556.6,2566.86 1559.52,2567.52 1562.44,2568.18 1565.35,2568.83 1568.27,2569.47 1571.18,2570.12 1574.09,2570.75 1577,2571.39 1579.91,2572.02 1582.82,2572.64 1585.72,2573.26 1588.62,2573.88 1591.52,2574.49 1594.42,2575.1 1597.32,2575.7 1600.22,2576.31 1603.11,2576.9 1606,2577.5 1620.6,2573.3 1621.58,2570.47 1622.55,2567.64 1623.53,2564.8 1624.5,2561.97 1625.47,2559.13 1626.44,2556.3 1627.4,2553.46 1628.37,2550.62 1629.33,2547.78 1630.28,2544.93 1631.24,2542.09 1632.19,2539.24 1633.14,2536.4 1634.08,2533.55 1635.03,2530.7 1635.97,2527.85 1636.9,2524.99 1637.83,2522.14 1638.76,2519.28 1639.68,2516.43 1640.6,2513.57 1641.52,2510.71 1642.43,2507.85 1643.34,2504.98 1644.24,2502.12 1645.14,2499.25 1646.04,2496.39 1646.92,2493.52 1647.81,2490.65 1648.69,2487.77 1649.56,2484.9 1650.43,2482.02 1651.3,2479.15 1652.16,2476.27 1653.01,2473.39 1653.86,2470.51 1654.7,2467.62 1655.54,2464.74 1656.37,2461.85 1657.19,2458.96 1658.01,2456.07 1658.82,2453.18 1659.63,2450.29 1660.43,2447.39 1661.22,2444.49 1662.01,2441.59 1662.79,2438.69 1663.56,2435.79 1664.33,2432.89 1665.09,2429.98 1665.84,2427.08 1666.58,2424.17 1667.32,2421.26 1668.05,2418.34 1668.77,2415.43 1669.48,2412.51 1670.19,2409.6 1670.89,2406.68 1671.58,2403.75 1672.26,2400.83 1672.93,2397.9 1673.6,2394.98 1674.25,2392.05 1674.9,2389.12 1675.54,2386.19 1676.17,2383.25 1676.79,2380.31 1677.41,2377.38 1678.01,2374.44 1678.6,2371.49 1679.19,2368.55 1679.77,2365.6 1680.33,2362.66 1680.89,2359.71 1681.43,2356.75 1681.97,2353.8 1682.5,2350.84 1683.01,2347.89 1683.52,2344.93 1684.01,2341.96 1684.5,2339" fill="none" stroke="#008000" stroke-width="8" stroke-linejoin="round" stroke-linecap="butt"/>
<ellipse cx="489.5" cy="2392" rx="39.5" ry="37" fill="none" stroke="#ff00ff" stroke-width="6"/>
<line x1="344" y1="2353" x2="505" y2="2353" stroke="#ff00ff" stroke-width="6"/>
<polygon points="346,2338 346,2368 293.7,2353" fill="#ff00ff"/>
<ellipse cx="1330.5" cy="2465" rx="52" ry="52.5" fill="none" stroke="#008000" stroke-width="7"/>
<line x1="1312" y1="2417" x2="1472" y2="2417" stroke="#008000" stroke-width="6.5"/>
<polygon points="1469.6,2401 1469.6,2433 1520.3,2417" fill="#008000"/>
<text transform="translate(354.13 1708.32) scale(0.6349 0.6830)" font-size="100" font-family="'Liberation Serif',serif" font-weight="bold" fill="#008000">τ</text>
<text transform="translate(384.39 1737.3) scale(0.4425 0.3895)" font-size="100" font-family="'Liberation Serif',serif" font-weight="bold" fill="#008000">r</text>
<text transform="translate(418.09 1707.99) scale(0.9226 0.7800)" font-size="100" font-family="'Liberation Serif',serif" font-weight="normal" fill="#008000">=</text>
<text transform="translate(478.82 1710.19) scale(0.7973 0.8149)" font-size="100" font-family="'Liberation Serif',serif" font-weight="bold" fill="#008000">11 s</text>
<text transform="translate(588.08 2282.17) scale(0.6116 0.7255)" font-size="100" font-family="'Liberation Serif',serif" font-weight="bold" fill="#ff00ff">τ</text>
<text transform="translate(617.51 2311.2) scale(0.4375 0.4295)" font-size="100" font-family="'Liberation Serif',serif" font-weight="bold" fill="#ff00ff">r</text>
<text transform="translate(651.09 2282.99) scale(0.9226 0.7800)" font-size="100" font-family="'Liberation Serif',serif" font-weight="normal" fill="#ff00ff">=</text>
<text transform="translate(711.21 2283.22) scale(0.7858 0.7836)" font-size="100" font-family="'Liberation Serif',serif" font-weight="bold" fill="#ff00ff">11 s</text>
<text transform="translate(1100.1 2277.29) scale(0.5977 0.7128)" font-size="100" font-family="'Liberation Serif',serif" font-weight="bold" fill="#008000">τ</text>
<text transform="translate(1126.5 2306.09) scale(0.4752 0.4142)" font-size="100" font-family="'Liberation Serif',serif" font-weight="bold" fill="#008000">d</text>
<text transform="translate(1166.61 2279.48) scale(0.9376 0.8040)" font-size="100" font-family="'Liberation Serif',serif" font-weight="normal" fill="#008000">=</text>
<text transform="translate(1235.93 2278.72) scale(0.7092 0.7791)" font-size="100" font-family="'Liberation Serif',serif" font-weight="bold" fill="#008000">9 s</text>
<text transform="translate(837.55 2545.3) scale(0.5767 0.7021)" font-size="100" font-family="'Liberation Serif',serif" font-weight="bold" fill="#ff00ff">τ</text>
<text transform="translate(865.81 2573.92) scale(0.3980 0.3773)" font-size="100" font-family="'Liberation Serif',serif" font-weight="bold" fill="#ff00ff">d</text>
<text transform="translate(904.65 2544.48) scale(0.9097 0.7600)" font-size="100" font-family="'Liberation Serif',serif" font-weight="normal" fill="#ff00ff">=</text>
<text transform="translate(969.65 2545.72) scale(0.7440 0.7776)" font-size="100" font-family="'Liberation Serif',serif" font-weight="bold" fill="#ff00ff">16 s</text>
<line x1="268" y1="1462" x2="1689" y2="1462" stroke="#000" stroke-width="4"/>
<line x1="268" y1="2606" x2="1689" y2="2606" stroke="#151515" stroke-width="4"/>
<line x1="589.6" y1="1462" x2="589.6" y2="1484" stroke="#111" stroke-width="4"/>
<line x1="589.6" y1="2606" x2="589.6" y2="2581" stroke="#111" stroke-width="4"/>
<line x1="903.2" y1="1462" x2="903.2" y2="1484" stroke="#111" stroke-width="4"/>
<line x1="903.2" y1="2606" x2="903.2" y2="2581" stroke="#111" stroke-width="4"/>
<line x1="1216.8" y1="1462" x2="1216.8" y2="1484" stroke="#111" stroke-width="4"/>
<line x1="1216.8" y1="2606" x2="1216.8" y2="2581" stroke="#111" stroke-width="4"/>
<line x1="1530.4" y1="1462" x2="1530.4" y2="1484" stroke="#111" stroke-width="4"/>
<line x1="1530.4" y1="2606" x2="1530.4" y2="2581" stroke="#111" stroke-width="4"/>
<line x1="432.8" y1="1462" x2="432.8" y2="1474" stroke="#444" stroke-width="4"/>
<line x1="432.8" y1="2606" x2="432.8" y2="2593" stroke="#444" stroke-width="4"/>
<line x1="746.4" y1="1462" x2="746.4" y2="1474" stroke="#444" stroke-width="4"/>
<line x1="746.4" y1="2606" x2="746.4" y2="2593" stroke="#444" stroke-width="4"/>
<line x1="1060" y1="1462" x2="1060" y2="1474" stroke="#444" stroke-width="4"/>
<line x1="1060" y1="2606" x2="1060" y2="2593" stroke="#444" stroke-width="4"/>
<line x1="1373.6" y1="1462" x2="1373.6" y2="1474" stroke="#444" stroke-width="4"/>
<line x1="1373.6" y1="2606" x2="1373.6" y2="2593" stroke="#444" stroke-width="4"/>
<line x1="271.5" y1="1462" x2="300" y2="1462" stroke="#ff00ff" stroke-width="5"/>
<line x1="1661" y1="1462" x2="1686.5" y2="1462" stroke="#008000" stroke-width="4.5"/>
<line x1="271.5" y1="1570.1" x2="288.5" y2="1570.1" stroke="#ff00ff" stroke-width="5"/>
<line x1="1673" y1="1570.1" x2="1686.5" y2="1570.1" stroke="#008000" stroke-width="4.5"/>
<line x1="271.5" y1="1678.2" x2="300" y2="1678.2" stroke="#ff00ff" stroke-width="5"/>
<line x1="1661" y1="1678.2" x2="1686.5" y2="1678.2" stroke="#008000" stroke-width="4.5"/>
<line x1="271.5" y1="1786.3" x2="288.5" y2="1786.3" stroke="#ff00ff" stroke-width="5"/>
<line x1="1673" y1="1786.3" x2="1686.5" y2="1786.3" stroke="#008000" stroke-width="4.5"/>
<line x1="271.5" y1="1894.4" x2="300" y2="1894.4" stroke="#ff00ff" stroke-width="5"/>
<line x1="1661" y1="1894.4" x2="1686.5" y2="1894.4" stroke="#008000" stroke-width="4.5"/>
<line x1="271.5" y1="2002.5" x2="288.5" y2="2002.5" stroke="#ff00ff" stroke-width="5"/>
<line x1="1673" y1="2002.5" x2="1686.5" y2="2002.5" stroke="#008000" stroke-width="4.5"/>
<line x1="271.5" y1="2110.6" x2="300" y2="2110.6" stroke="#ff00ff" stroke-width="5"/>
<line x1="1661" y1="2110.6" x2="1686.5" y2="2110.6" stroke="#008000" stroke-width="4.5"/>
<line x1="271.5" y1="2218.7" x2="288.5" y2="2218.7" stroke="#ff00ff" stroke-width="5"/>
<line x1="1673" y1="2218.7" x2="1686.5" y2="2218.7" stroke="#008000" stroke-width="4.5"/>
<line x1="271.5" y1="2326.8" x2="300" y2="2326.8" stroke="#ff00ff" stroke-width="5"/>
<line x1="1661" y1="2326.8" x2="1686.5" y2="2326.8" stroke="#008000" stroke-width="4.5"/>
<line x1="271.5" y1="2434.9" x2="288.5" y2="2434.9" stroke="#ff00ff" stroke-width="5"/>
<line x1="1673" y1="2434.9" x2="1686.5" y2="2434.9" stroke="#008000" stroke-width="4.5"/>
<line x1="271.5" y1="2543" x2="300" y2="2543" stroke="#ff00ff" stroke-width="5"/>
<line x1="1661" y1="2543" x2="1686.5" y2="2543" stroke="#008000" stroke-width="4.5"/>
<line x1="271.8" y1="1460" x2="271.8" y2="2608" stroke="#ff00ff" stroke-width="6.5"/>
<line x1="1686.5" y1="1460" x2="1686.5" y2="2608" stroke="#008000" stroke-width="5"/>
<text transform="translate(171.59 1478.53) scale(0.5771 0.6444)" font-size="100" font-family="'Liberation Serif',serif" font-weight="normal" fill="#000" stroke="#fff" stroke-width="1.96" stroke-linejoin="round">1.7</text>
<text transform="translate(171.59 1637.43) scale(0.5771 0.6444)" font-size="100" font-family="'Liberation Serif',serif" font-weight="normal" fill="#000" stroke="#fff" stroke-width="1.96" stroke-linejoin="round">1.6</text>
<text transform="translate(171.55 1796.33) scale(0.5822 0.6444)" font-size="100" font-family="'Liberation Serif',serif" font-weight="normal" fill="#000" stroke="#fff" stroke-width="1.96" stroke-linejoin="round">1.5</text>
<text transform="translate(171.66 1955.23) scale(0.5696 0.6444)" font-size="100" font-family="'Liberation Serif',serif" font-weight="normal" fill="#000" stroke="#fff" stroke-width="1.98" stroke-linejoin="round">1.4</text>
<text transform="translate(171.55 2114.13) scale(0.5822 0.6444)" font-size="100" font-family="'Liberation Serif',serif" font-weight="normal" fill="#000" stroke="#fff" stroke-width="1.96" stroke-linejoin="round">1.3</text>
<text transform="translate(171.48 2273.03) scale(0.5901 0.6444)" font-size="100" font-family="'Liberation Serif',serif" font-weight="normal" fill="#000" stroke="#fff" stroke-width="1.94" stroke-linejoin="round">1.2</text>
<text transform="translate(171.46 2431.93) scale(0.5928 0.6444)" font-size="100" font-family="'Liberation Serif',serif" font-weight="normal" fill="#000" stroke="#fff" stroke-width="1.94" stroke-linejoin="round">1.1</text>
<text transform="translate(171.55 2590.84) scale(0.5822 0.6397)" font-size="100" font-family="'Liberation Serif',serif" font-weight="normal" fill="#000" stroke="#fff" stroke-width="1.96" stroke-linejoin="round">1.0</text>
<text transform="translate(1715.26 1479.99) scale(0.6094 0.6741)" font-size="100" font-family="'Liberation Serif',serif" font-weight="normal" fill="#000" stroke="#fff" stroke-width="1.87" stroke-linejoin="round">3.5</text>
<text transform="translate(1715.26 1696.2) scale(0.6094 0.6691)" font-size="100" font-family="'Liberation Serif',serif" font-weight="normal" fill="#000" stroke="#fff" stroke-width="1.88" stroke-linejoin="round">3.0</text>
<text transform="translate(1715.26 1912.39) scale(0.6094 0.6741)" font-size="100" font-family="'Liberation Serif',serif" font-weight="normal" fill="#000" stroke="#fff" stroke-width="1.87" stroke-linejoin="round">2.5</text>
<text transform="translate(1715.26 2128.6) scale(0.6094 0.6691)" font-size="100" font-family="'Liberation Serif',serif" font-weight="normal" fill="#000" stroke="#fff" stroke-width="1.88" stroke-linejoin="round">2.0</text>
<text transform="translate(1712.64 2344.79) scale(0.6311 0.6741)" font-size="100" font-family="'Liberation Serif',serif" font-weight="normal" fill="#000" stroke="#fff" stroke-width="1.84" stroke-linejoin="round">1.5</text>
<text transform="translate(1712.64 2561) scale(0.6311 0.6691)" font-size="100" font-family="'Liberation Serif',serif" font-weight="normal" fill="#000" stroke="#fff" stroke-width="1.85" stroke-linejoin="round">1.0</text>
<text transform="translate(239.8 2681.56) scale(0.6739 0.6356)" font-size="100" font-family="'Liberation Serif',serif" font-weight="normal" fill="#000" stroke="#fff" stroke-width="1.83" stroke-linejoin="round">80</text>
<text transform="translate(556 2681.56) scale(0.6667 0.6356)" font-size="100" font-family="'Liberation Serif',serif" font-weight="normal" fill="#000" stroke="#fff" stroke-width="1.84" stroke-linejoin="round">90</text>
<text transform="translate(857.08 2681.56) scale(0.6255 0.6356)" font-size="100" font-family="'Liberation Serif',serif" font-weight="normal" fill="#000" stroke="#fff" stroke-width="1.90" stroke-linejoin="round">100</text>
<text transform="translate(1168.54 2681.56) scale(0.6418 0.6356)" font-size="100" font-family="'Liberation Serif',serif" font-weight="normal" fill="#000" stroke="#fff" stroke-width="1.88" stroke-linejoin="round">110</text>
<text transform="translate(1485.18 2681.56) scale(0.6255 0.6356)" font-size="100" font-family="'Liberation Serif',serif" font-weight="normal" fill="#000" stroke="#fff" stroke-width="1.90" stroke-linejoin="round">120</text>
<text transform="translate(841.99 2795.85) scale(1.0041 0.9231)" font-size="100" font-family="'Liberation Serif',serif" font-weight="bold" fill="#000">Time (s)</text>
<text transform="translate(99.53 2525.5) rotate(-90) scale(0.9989 0.9802)" font-size="100" font-family="'Liberation Serif',serif" font-weight="bold" fill="#000">Normalized current (a.u.)</text>
</svg></body></html>
